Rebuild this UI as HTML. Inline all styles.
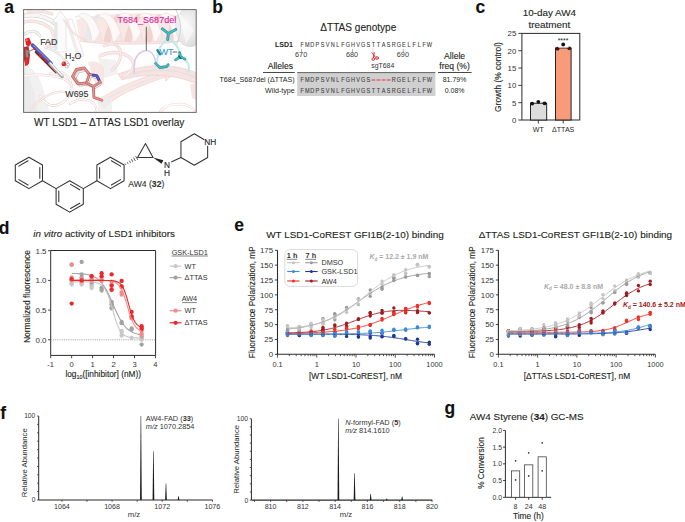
<!DOCTYPE html>
<html><head><meta charset="utf-8"><style>
html,body{margin:0;padding:0;background:#fff;}
svg{display:block;font-family:"Liberation Sans", sans-serif;}
text{stroke-width:0.12px;}
</style></head><body>
<svg width="685" height="522" viewBox="0 0 685 522">
<rect width="685" height="522" fill="#fff"/>
<text x="4.30" y="13.00" font-size="17.5" fill="#111" stroke="#111" font-weight="bold" >a</text>
<text x="212.30" y="13.00" font-size="17.5" fill="#111" stroke="#111" font-weight="bold" >b</text>
<text x="475.60" y="13.20" font-size="17.5" fill="#111" stroke="#111" font-weight="bold" >c</text>
<text x="-1.20" y="234.40" font-size="17.5" fill="#111" stroke="#111" font-weight="bold" >d</text>
<text x="234.20" y="231.40" font-size="17.5" fill="#111" stroke="#111" font-weight="bold" >e</text>
<text x="0.30" y="418.60" font-size="17.5" fill="#111" stroke="#111" font-weight="bold" >f</text>
<text x="444.60" y="414.40" font-size="17.5" fill="#111" stroke="#111" font-weight="bold" >g</text>
<defs><clipPath id="clipA"><rect x="23.5" y="9.6" width="172.6" height="102.8"/></clipPath><radialGradient id="gHel" cx="0.35" cy="0.45" r="0.75"><stop offset="0" stop-color="#fafafa"/><stop offset="0.6" stop-color="#e4e4e4"/><stop offset="1" stop-color="#cfcfcf"/></radialGradient><linearGradient id="gStr" x1="0" y1="0" x2="1" y2="0"><stop offset="0" stop-color="#e2e2e2"/><stop offset="0.5" stop-color="#f7f7f7"/><stop offset="1" stop-color="#e6e6e6"/></linearGradient><linearGradient id="gPk" x1="0" y1="0" x2="0" y2="1"><stop offset="0" stop-color="#f7e4e2"/><stop offset="0.5" stop-color="#f1d3cf"/><stop offset="1" stop-color="#f6e1de"/></linearGradient></defs>
<g clip-path="url(#clipA)">
<rect x="23.5" y="9.6" width="172.6" height="102.8" fill="#fff"/>
<path d="M23,62 C30,66 36,72 40,80 C44,90 46,100 50,113 L23,113 Z" fill="#f1f1f1"/>
<path d="M23,70 C28,74 32,82 34,92 C35,100 36,106 38,113 L23,113Z" fill="#e8e8e8" opacity="0.6"/>
<path d="M24,16 C34,14 46,16 56,24 C62,30 60,40 52,46" fill="none" stroke="#d6d6d6" stroke-width="4.5" stroke-linecap="round" stroke-linejoin="round" opacity="1.0"/>
<path d="M24,16 C34,14 46,16 56,24 C62,30 60,40 52,46" fill="none" stroke="#f6f6f6" stroke-width="3.2" stroke-linecap="round" stroke-linejoin="round" opacity="1.0"/>
<path d="M24,22 C32,20 42,22 50,28 C56,34 54,42 46,48" fill="none" stroke="#efd5d2" stroke-width="3.2" stroke-linecap="round" stroke-linejoin="round" opacity="1.0"/>
<path d="M24,22 C32,20 42,22 50,28 C56,34 54,42 46,48" fill="none" stroke="#f9ebe9" stroke-width="1.9000000000000001" stroke-linecap="round" stroke-linejoin="round" opacity="1.0"/>
<path d="M25,34 C30,30 36,30 40,36" fill="none" stroke="#d6d6d6" stroke-width="3.0" stroke-linecap="round" stroke-linejoin="round" opacity="1.0"/>
<path d="M25,34 C30,30 36,30 40,36" fill="none" stroke="#f6f6f6" stroke-width="1.7" stroke-linecap="round" stroke-linejoin="round" opacity="1.0"/>
<path d="M28,12 C36,10 44,11 52,14" fill="none" stroke="#efd5d2" stroke-width="3.0" stroke-linecap="round" stroke-linejoin="round" opacity="1.0"/>
<path d="M28,12 C36,10 44,11 52,14" fill="none" stroke="#f9ebe9" stroke-width="1.7" stroke-linecap="round" stroke-linejoin="round" opacity="1.0"/>
<path d="M54.5,52 L54.8,22 L52.5,22 L60.5,11 L68.5,22 L66,22 L66.2,52 Z" fill="#fbfbfb" stroke="#d9d9d9" stroke-width="0.6"/>
<path d="M54.6,50 L54.8,22 L57.5,22 L57.6,50 Z" fill="#e6e6e6"/>
<path d="M66,20 L72,19 L84,56 L78,58 Z" fill="#fcfcfc" stroke="#ecd2cf" stroke-width="0.6"/>
<path d="M66,20 L68.5,20 L80.5,57 L78,58 Z" fill="#ededed"/>
<path d="M76,20 C90,13 150,12 178,15 L178,42 C150,45 100,45 80,41 Z" fill="#f8e8e6"/>
<path d="M83.0,42 C85.0,30 90.0,19 97.0,14 L103.0,14.5 C96.0,20 92.0,31 90.0,42.5 Z" fill="#e9e9e9"/>
<path d="M75.0,17.5 C83.0,14 90.0,24 92.0,41.5 L102.0,41.5 C99.0,25 92.0,13 82.0,13 Z" fill="#fdf9f8" stroke="#d6d6d6" stroke-width="0.5"/>
<path d="M94.0,41.5 L102.0,41.5 C101.5,37 101.0,35 100.0,32 C98.0,35 96.0,38 94.0,41.5 Z" fill="#ecdede" opacity="0.7"/>
<path d="M103.5,42 C105.5,30 110.5,19 117.5,14 L123.5,14.5 C116.5,20 112.5,31 110.5,42.5 Z" fill="#f1d3cf"/>
<path d="M95.5,17.5 C103.5,14 110.5,24 112.5,41.5 L122.5,41.5 C119.5,25 112.5,13 102.5,13 Z" fill="#fdf9f8" stroke="#e9cdca" stroke-width="0.5"/>
<path d="M114.5,41.5 L122.5,41.5 C122.0,37 121.5,35 120.5,32 C118.5,35 116.5,38 114.5,41.5 Z" fill="#ecdede" opacity="0.7"/>
<path d="M124.0,42 C126.0,30 131.0,19 138.0,14 L144.0,14.5 C137.0,20 133.0,31 131.0,42.5 Z" fill="#f1d3cf"/>
<path d="M116.0,17.5 C124.0,14 131.0,24 133.0,41.5 L143.0,41.5 C140.0,25 133.0,13 123.0,13 Z" fill="#fdf9f8" stroke="#e9cdca" stroke-width="0.5"/>
<path d="M135.0,41.5 L143.0,41.5 C142.5,37 142.0,35 141.0,32 C139.0,35 137.0,38 135.0,41.5 Z" fill="#ecdede" opacity="0.7"/>
<path d="M144.5,42 C146.5,30 151.5,19 158.5,14 L164.5,14.5 C157.5,20 153.5,31 151.5,42.5 Z" fill="#f1d3cf"/>
<path d="M136.5,17.5 C144.5,14 151.5,24 153.5,41.5 L163.5,41.5 C160.5,25 153.5,13 143.5,13 Z" fill="#fdf9f8" stroke="#e9cdca" stroke-width="0.5"/>
<path d="M155.5,41.5 L163.5,41.5 C163.0,37 162.5,35 161.5,32 C159.5,35 157.5,38 155.5,41.5 Z" fill="#ecdede" opacity="0.7"/>
<path d="M165.0,42 C167.0,30 172.0,19 179.0,14 L185.0,14.5 C178.0,20 174.0,31 172.0,42.5 Z" fill="#f1d3cf"/>
<path d="M157.0,17.5 C165.0,14 172.0,24 174.0,41.5 L184.0,41.5 C181.0,25 174.0,13 164.0,13 Z" fill="#fdf9f8" stroke="#e9cdca" stroke-width="0.5"/>
<path d="M176.0,41.5 L184.0,41.5 C183.5,37 183.0,35 182.0,32 C180.0,35 178.0,38 176.0,41.5 Z" fill="#ecdede" opacity="0.7"/>
<path d="M80,41 C100,45 150,45 178,42" fill="none" stroke="#ecd0cc" stroke-width="0.7"/>
<ellipse cx="190" cy="27" rx="15" ry="20" fill="url(#gHel)"/>
<path d="M176,10 C182,22 182,34 176,46" fill="none" stroke="#d2d2d2" stroke-width="1"/>
<path d="M178,12 L194,30 L186,44" fill="#fbfbfb" opacity="0.6"/>
<path d="M98,100 C108,94 120,86 140,79 C150,75 158,73 164,71 L163,66 L174,72 L166,81 L165,77 C156,80 146,84 134,89 C120,95 110,102 104,108 Z" fill="#f8e7e5" stroke="#ecccc8" stroke-width="0.6"/>
<path d="M118,74 C135,68 150,64 168,66 C180,67 190,70 197,73 L197,84 C188,80 178,77 166,76 C150,74 134,76 122,80 Z" fill="#f7e4e2" stroke="#ebc9c5" stroke-width="0.6"/>
<path d="M122,77 C138,71 156,69 172,71 C182,72 190,75 197,78" fill="none" stroke="#e2e2e2" stroke-width="1.4"/>
<path d="M104,100 C118,92 134,84 160,76" fill="none" stroke="#e6e6e6" stroke-width="1.3"/>
<path d="M98,58 L116,60 L118,74 L104,78 Z" fill="#ededed" opacity="0.8"/>
<path d="M98,96 L112,98 L112,112 L98,112 Z" fill="#ededed" opacity="0.7"/>
<path d="M100,56 C112,50 126,52 132,60 C136,66 132,72 124,76" fill="none" stroke="#efd5d2" stroke-width="3.4" stroke-linecap="round" stroke-linejoin="round" opacity="1.0"/>
<path d="M100,56 C112,50 126,52 132,60 C136,66 132,72 124,76" fill="none" stroke="#f9ebe9" stroke-width="2.0999999999999996" stroke-linecap="round" stroke-linejoin="round" opacity="1.0"/>
<path d="M104,46 C110,42 118,44 120,50 C122,58 118,66 112,70" fill="none" stroke="#efd5d2" stroke-width="3.0" stroke-linecap="round" stroke-linejoin="round" opacity="1.0"/>
<path d="M104,46 C110,42 118,44 120,50 C122,58 118,66 112,70" fill="none" stroke="#f9ebe9" stroke-width="1.7" stroke-linecap="round" stroke-linejoin="round" opacity="1.0"/>
<path d="M88,62 C94,60 100,62 104,68 L104,84 L96,86 Z" fill="#f5e0dd" opacity="0.8"/>
<path d="M160,112 C164,106 172,104 180,104 C188,104 192,108 196,112" fill="none" stroke="#efd5d2" stroke-width="2.6" stroke-linecap="round" stroke-linejoin="round" opacity="1.0"/>
<path d="M160,112 C164,106 172,104 180,104 C188,104 192,108 196,112" fill="none" stroke="#fff" stroke-width="1.3" stroke-linecap="round" stroke-linejoin="round" opacity="1.0"/>
<path d="M190,84 L197,84 L197,100 L192,98 Z" fill="#f4dedb" opacity="0.8"/>
<path d="M50,74 C58,70 66,72 70,80 C74,90 68,100 60,104 C52,108 44,104 40,96" fill="none" stroke="#efd5d2" stroke-width="2.6" stroke-linecap="round" stroke-linejoin="round" opacity="1.0"/>
<path d="M50,74 C58,70 66,72 70,80 C74,90 68,100 60,104 C52,108 44,104 40,96" fill="none" stroke="#fff" stroke-width="1.3" stroke-linecap="round" stroke-linejoin="round" opacity="1.0"/>
<path d="M30,110 C40,98 54,90 66,92" fill="none" stroke="#efd5d2" stroke-width="2.2" stroke-linecap="round" stroke-linejoin="round" opacity="1.0"/>
<path d="M30,110 C40,98 54,90 66,92" fill="none" stroke="#fff" stroke-width="0.9000000000000001" stroke-linecap="round" stroke-linejoin="round" opacity="1.0"/>
<path d="M70,104 C78,98 88,98 94,104 C98,108 96,112 94,114" fill="none" stroke="#efd5d2" stroke-width="2.4" stroke-linecap="round" stroke-linejoin="round" opacity="1.0"/>
<path d="M70,104 C78,98 88,98 94,104 C98,108 96,112 94,114" fill="none" stroke="#fff" stroke-width="1.0999999999999999" stroke-linecap="round" stroke-linejoin="round" opacity="1.0"/>
<path d="M48,48 C58,52 64,58 66,64" fill="none" stroke="#d6d6d6" stroke-width="2.4" stroke-linecap="round" stroke-linejoin="round" opacity="1.0"/>
<path d="M48,48 C58,52 64,58 66,64" fill="none" stroke="#f6f6f6" stroke-width="1.0999999999999999" stroke-linecap="round" stroke-linejoin="round" opacity="1.0"/>
<path d="M64,20 C70,30 74,36 86,40" fill="none" stroke="#efd5d2" stroke-width="2.0" stroke-linecap="round" stroke-linejoin="round" opacity="0.7"/>
<path d="M64,20 C70,30 74,36 86,40" fill="none" stroke="#f9ebe9" stroke-width="0.7" stroke-linecap="round" stroke-linejoin="round" opacity="0.7"/>
<path d="M23.5,76 C34,74.5 48,74 60,77.5 C66,79.5 70,82 72,86" fill="none" stroke="#efd5d2" stroke-width="2.6" stroke-linecap="round" stroke-linejoin="round" opacity="1.0"/>
<path d="M23.5,76 C34,74.5 48,74 60,77.5 C66,79.5 70,82 72,86" fill="none" stroke="#fff" stroke-width="1.3" stroke-linecap="round" stroke-linejoin="round" opacity="1.0"/>
<path d="M146.3,50.5 C141,51 136.5,55 135,60 C134,64 133.8,68 134.2,73" fill="none" stroke="#dcc6e6" stroke-width="1.5" stroke-linecap="round"/>
<path d="M146.3,50.5 C150,50.5 153.5,54 155,59 C155.5,61 155.6,62.5 155.6,63.4" fill="none" stroke="#dcc6e6" stroke-width="1.5" stroke-linecap="round"/>
<path d="M168,39.5 C164,42 160.5,45 159,50 C158,54 157.5,58 157,62" fill="none" stroke="#c4e9ea" stroke-width="2.0" stroke-linecap="round"/>
<path d="M169,39.5 C174,41.5 178,46 179.5,53" fill="none" stroke="#c4e9ea" stroke-width="2.0" stroke-linecap="round"/>
<path d="M184.5,59 C188,62 190,66 188.5,72" fill="none" stroke="#c4e9ea" stroke-width="2.0" stroke-linecap="round"/>
<path d="M162.4,28.8 L168.4,33.5 L175.8,29.5 M168.4,33.5 L167.7,39.5" fill="none" stroke="#23939a" stroke-width="2.8" stroke-linecap="round" stroke-linejoin="round"/>
<path d="M162.4,28.8 L168.4,33.5 L175.8,29.5 M168.4,33.5 L167.7,39.5" fill="none" stroke="#46bfc5" stroke-width="1.4999999999999998" stroke-linecap="round" stroke-linejoin="round"/>
<path d="M157.4,50.2 L160.0,54.2" fill="none" stroke="#1d8890" stroke-width="2.4" stroke-linecap="round" stroke-linejoin="round"/>
<path d="M155.6,63.4 L159.8,67.6 L166.6,66.6 L168.2,64.6" fill="none" stroke="#23939a" stroke-width="2.7" stroke-linecap="round" stroke-linejoin="round"/>
<path d="M155.6,63.4 L159.8,67.6 L166.6,66.6 L168.2,64.6" fill="none" stroke="#46bfc5" stroke-width="1.4000000000000001" stroke-linecap="round" stroke-linejoin="round"/>
<path d="M175.6,59.8 L180.5,56.6 L185.0,59.2 M180.5,56.6 L179.6,52.6" fill="none" stroke="#23939a" stroke-width="2.7" stroke-linecap="round" stroke-linejoin="round"/>
<path d="M175.6,59.8 L180.5,56.6 L185.0,59.2 M180.5,56.6 L179.6,52.6" fill="none" stroke="#46bfc5" stroke-width="1.4000000000000001" stroke-linecap="round" stroke-linejoin="round"/>
<path d="M178.6,56.0 L181.0,58.6" fill="none" stroke="#0f5f66" stroke-width="1.4" stroke-linecap="round" stroke-linejoin="round"/>
<path d="M25,39 L29,37.5 L31.5,43 L29,46.5 L26,45 Z" fill="#e02424"/>
<circle cx="26.8" cy="40.2" r="0.9" fill="#ff8a8a"/>
<path d="M24,47 L28.5,46 L30,55 L29,63.5 L25.5,65.5 L23.5,58 Z" fill="#b83030"/>
<path d="M25.5,49.5 L28.5,50.5 L28.2,58 L25.8,57 Z" fill="#8c8c8c"/>
<path d="M24.5,59 L28.5,59.5 L28.2,65 L25,66 Z" fill="#e42a2a"/>
<path d="M36,52 L56,72" fill="none" stroke="#7a2626" stroke-width="2.6" stroke-linecap="round" stroke-linejoin="round"/>
<path d="M32.5,45.2 L51,63.6" fill="none" stroke="#4a55b6" stroke-width="3.8" stroke-linecap="round" stroke-linejoin="round"/>
<path d="M33.5,45.5 L49,61" fill="none" stroke="#7d88dd" stroke-width="1.1" stroke-linecap="round" stroke-linejoin="round"/>
<path d="M50,63.5 L62.2,76.6" fill="none" stroke="#a9a9a9" stroke-width="3.4" stroke-linecap="round" stroke-linejoin="round"/>
<path d="M50.6,63.4 L62,75.6" fill="none" stroke="#f6f6f6" stroke-width="1.5" stroke-linecap="round" stroke-linejoin="round"/>
<circle cx="40.4" cy="55.9" r="1.6" fill="#d82a2a"/>
<circle cx="45.1" cy="60.1" r="1.5" fill="#c82828"/>
<circle cx="34.4" cy="48.8" r="1.3" fill="#d82a2a"/>
<path d="M27.5,52 L33,49.5" fill="none" stroke="#8a8a8a" stroke-width="1.3" stroke-linecap="round" stroke-linejoin="round"/>
<circle cx="66.6" cy="62.4" r="1.5" fill="#fff" stroke="#9a9a9a" stroke-width="0.6"/>
<circle cx="66.8" cy="66.6" r="1.6" fill="#fff" stroke="#9a9a9a" stroke-width="0.6"/>
<circle cx="68.2" cy="64.6" r="1.4" fill="#fff" stroke="#9a9a9a" stroke-width="0.6"/>
<circle cx="63.8" cy="63.9" r="2.3" fill="#e02828"/>
<circle cx="63.0" cy="63.1" r="0.8" fill="#ff9a9a"/>
<path d="M75.0,78.0 L78.6,71.8 L86.0,70.4 L90.6,76.4 L87.8,84.2 L80.0,85.2 Z M90.6,76.4 L97.6,77.8 L101.0,84.0 L94.6,87.8 L87.8,84.2" fill="none" stroke="#b5b5b5" stroke-width="2.6" stroke-linecap="round" stroke-linejoin="round"/>
<path d="M75.0,78.0 L78.6,71.8 L86.0,70.4 L90.6,76.4 L87.8,84.2 L80.0,85.2 Z M90.6,76.4 L97.6,77.8 L101.0,84.0 L94.6,87.8 L87.8,84.2" fill="none" stroke="#f2f2f2" stroke-width="1.3" stroke-linecap="round" stroke-linejoin="round"/>
<path d="M72.5,76.4 L76.4,69.5 L84.4,68.0 L89.4,74.4 L86.4,82.9 L77.9,83.9 Z" fill="none" stroke="#c0605e" stroke-width="2.8" stroke-linecap="round" stroke-linejoin="round"/>
<path d="M72.5,76.4 L76.4,69.5 L84.4,68.0 L89.4,74.4 L86.4,82.9 L77.9,83.9 Z" fill="none" stroke="#e39390" stroke-width="1.4999999999999998" stroke-linecap="round" stroke-linejoin="round"/>
<path d="M89.4,74.4 L96.9,75.9 L100.3,82.4 L93.4,86.4 L86.4,82.9 M93.4,86.4 L93.9,97.4 L101.8,100.3" fill="none" stroke="#c0605e" stroke-width="2.8" stroke-linecap="round" stroke-linejoin="round"/>
<path d="M89.4,74.4 L96.9,75.9 L100.3,82.4 L93.4,86.4 L86.4,82.9 M93.4,86.4 L93.9,97.4 L101.8,100.3" fill="none" stroke="#e39390" stroke-width="1.4999999999999998" stroke-linecap="round" stroke-linejoin="round"/>
<path d="M93.2,75.2 L96.9,75.9 L98.7,79.4" fill="none" stroke="#2f3fae" stroke-width="2.8" stroke-linecap="round" stroke-linejoin="round"/>
<path d="M93.2,75.2 L96.9,75.9 L98.7,79.4" fill="none" stroke="#5566d0" stroke-width="1.4999999999999998" stroke-linecap="round" stroke-linejoin="round"/>
</g>
<rect x="23.6" y="9.6" width="172.6" height="102.8" fill="none" stroke="#6b6b6b" stroke-width="1"/>
<text x="40.20" y="44.80" font-size="8.9" fill="#333" stroke="#333" >FAD</text>
<text x="65.0" y="59.3" font-size="8.9" fill="#333" stroke="#333">H<tspan font-size="5.5" dy="2">2</tspan><tspan dy="-2">O</tspan></text>
<text x="65.30" y="96.60" font-size="8.9" fill="#333" stroke="#333" >W695</text>
<text x="117.60" y="23.00" font-size="9.0" fill="#e3179a" stroke="#e3179a" >T684_S687del</text>
<text x="159.40" y="54.50" font-size="9.2" fill="#3a9ad8" stroke="#3a9ad8" >WT</text>
<line x1="172.60" y1="52.00" x2="177.20" y2="52.00" stroke="#222" stroke-width="0.7" />
<line x1="146.30" y1="26.80" x2="146.30" y2="50.30" stroke="#222" stroke-width="0.7" />
<text x="34.00" y="125.70" font-size="10.15" fill="#231f20" stroke="#231f20" >WT LSD1 – ΔTTAS LSD1 overlay</text>
<text x="358.30" y="30.60" font-size="10.1" fill="#231f20" stroke="#231f20" text-anchor="middle" >ΔTTAS genotype</text>
<text x="275.00" y="46.60" font-size="7" fill="#231f20" font-weight="bold" >LSD1</text>
<g font-size="7.5" fill="#404040" stroke="#404040" stroke-width="0.38"><text transform="translate(302.14,46.6) scale(0.74,1)" text-anchor="middle">F</text><text transform="translate(307.23,46.6) scale(0.74,1)" text-anchor="middle">M</text><text transform="translate(312.32,46.6) scale(0.74,1)" text-anchor="middle">D</text><text transform="translate(317.41,46.6) scale(0.74,1)" text-anchor="middle">P</text><text transform="translate(322.50,46.6) scale(0.74,1)" text-anchor="middle">S</text><text transform="translate(327.59,46.6) scale(0.74,1)" text-anchor="middle">V</text><text transform="translate(332.68,46.6) scale(0.74,1)" text-anchor="middle">N</text><text transform="translate(337.76,46.6) scale(0.74,1)" text-anchor="middle">L</text><text transform="translate(342.85,46.6) scale(0.74,1)" text-anchor="middle">F</text><text transform="translate(347.94,46.6) scale(0.74,1)" text-anchor="middle">G</text><text transform="translate(353.03,46.6) scale(0.74,1)" text-anchor="middle">H</text><text transform="translate(358.12,46.6) scale(0.74,1)" text-anchor="middle">V</text><text transform="translate(363.21,46.6) scale(0.74,1)" text-anchor="middle">G</text><text transform="translate(368.29,46.6) scale(0.74,1)" text-anchor="middle">S</text><text transform="translate(373.38,46.6) scale(0.74,1)" text-anchor="middle">T</text><text transform="translate(378.47,46.6) scale(0.74,1)" text-anchor="middle">T</text><text transform="translate(383.56,46.6) scale(0.74,1)" text-anchor="middle">A</text><text transform="translate(388.65,46.6) scale(0.74,1)" text-anchor="middle">S</text><text transform="translate(393.74,46.6) scale(0.74,1)" text-anchor="middle">R</text><text transform="translate(398.82,46.6) scale(0.74,1)" text-anchor="middle">G</text><text transform="translate(403.91,46.6) scale(0.74,1)" text-anchor="middle">E</text><text transform="translate(409.00,46.6) scale(0.74,1)" text-anchor="middle">L</text><text transform="translate(414.09,46.6) scale(0.74,1)" text-anchor="middle">F</text><text transform="translate(419.18,46.6) scale(0.74,1)" text-anchor="middle">L</text><text transform="translate(424.27,46.6) scale(0.74,1)" text-anchor="middle">F</text><text transform="translate(429.36,46.6) scale(0.74,1)" text-anchor="middle">W</text></g>
<line x1="301.54" y1="49.00" x2="301.54" y2="52.40" stroke="#666" stroke-width="0.55" />
<text x="301.14" y="57.40" font-size="7.3" fill="#3a3a3a" text-anchor="middle" >670</text>
<line x1="352.43" y1="49.00" x2="352.43" y2="52.40" stroke="#666" stroke-width="0.55" />
<text x="352.03" y="57.40" font-size="7.3" fill="#3a3a3a" text-anchor="middle" >680</text>
<line x1="403.31" y1="49.00" x2="403.31" y2="52.40" stroke="#666" stroke-width="0.55" />
<text x="402.91" y="57.40" font-size="7.3" fill="#3a3a3a" text-anchor="middle" >690</text>
<line x1="372.98" y1="48.30" x2="372.98" y2="51.80" stroke="#f08a90" stroke-width="0.5" stroke-dasharray="0.8,0.5"/>
<g stroke="#e3262d" fill="none" stroke-width="1.0" stroke-linecap="round"><path d="M371.98,52.6L375.28,57.0"/><path d="M374.18,52.6L373.58,57.4"/><circle cx="373.28" cy="59.1" r="1.35"/><circle cx="377.08" cy="58.0" r="1.35"/></g>
<text x="382.80" y="68.00" font-size="6.9" fill="#333" text-anchor="middle" >sgT684</text>
<text x="267.70" y="68.80" font-size="8.6" fill="#231f20" stroke="#231f20" >Alleles</text>
<line x1="263.00" y1="72.50" x2="294.80" y2="72.50" stroke="#333" stroke-width="0.9" />
<text x="454.60" y="59.40" font-size="8.6" fill="#231f20" stroke="#231f20" text-anchor="middle" >Allele</text>
<text x="454.60" y="69.40" font-size="8.6" fill="#231f20" stroke="#231f20" text-anchor="middle" >freq (%)</text>
<line x1="438.00" y1="72.50" x2="471.60" y2="72.50" stroke="#333" stroke-width="0.9" />
<rect x="297.2" y="72.4" width="138.2" height="23.6" fill="#d0d0d0"/>
<line x1="297.20" y1="72.60" x2="435.40" y2="72.60" stroke="#555" stroke-width="0.9" />
<text x="294.70" y="82.00" font-size="7.1" fill="#231f20" text-anchor="end" >T684_S687del (ΔTTAS)</text>
<text x="294.70" y="93.10" font-size="7.1" fill="#231f20" text-anchor="end" >Wild-type</text>
<g font-size="7.5" fill="#404040" stroke="#404040" stroke-width="0.38"><text transform="translate(302.14,82.3) scale(0.74,1)" text-anchor="middle">F</text><text transform="translate(307.23,82.3) scale(0.74,1)" text-anchor="middle">M</text><text transform="translate(312.32,82.3) scale(0.74,1)" text-anchor="middle">D</text><text transform="translate(317.41,82.3) scale(0.74,1)" text-anchor="middle">P</text><text transform="translate(322.50,82.3) scale(0.74,1)" text-anchor="middle">S</text><text transform="translate(327.59,82.3) scale(0.74,1)" text-anchor="middle">V</text><text transform="translate(332.68,82.3) scale(0.74,1)" text-anchor="middle">N</text><text transform="translate(337.76,82.3) scale(0.74,1)" text-anchor="middle">L</text><text transform="translate(342.85,82.3) scale(0.74,1)" text-anchor="middle">F</text><text transform="translate(347.94,82.3) scale(0.74,1)" text-anchor="middle">G</text><text transform="translate(353.03,82.3) scale(0.74,1)" text-anchor="middle">H</text><text transform="translate(358.12,82.3) scale(0.74,1)" text-anchor="middle">V</text><text transform="translate(363.21,82.3) scale(0.74,1)" text-anchor="middle">G</text><text transform="translate(368.29,82.3) scale(0.74,1)" text-anchor="middle">S</text><text transform="translate(393.74,82.3) scale(0.74,1)" text-anchor="middle">R</text><text transform="translate(398.82,82.3) scale(0.74,1)" text-anchor="middle">G</text><text transform="translate(403.91,82.3) scale(0.74,1)" text-anchor="middle">E</text><text transform="translate(409.00,82.3) scale(0.74,1)" text-anchor="middle">L</text><text transform="translate(414.09,82.3) scale(0.74,1)" text-anchor="middle">F</text><text transform="translate(419.18,82.3) scale(0.74,1)" text-anchor="middle">L</text><text transform="translate(424.27,82.3) scale(0.74,1)" text-anchor="middle">F</text><text transform="translate(429.36,82.3) scale(0.74,1)" text-anchor="middle">W</text></g>
<line x1="371.48" y1="80.00" x2="375.28" y2="80.00" stroke="#ec3b44" stroke-width="1.1" />
<line x1="376.57" y1="80.00" x2="380.37" y2="80.00" stroke="#ec3b44" stroke-width="1.1" />
<line x1="381.66" y1="80.00" x2="385.46" y2="80.00" stroke="#ec3b44" stroke-width="1.1" />
<line x1="386.75" y1="80.00" x2="390.55" y2="80.00" stroke="#ec3b44" stroke-width="1.1" />
<g font-size="7.5" fill="#404040" stroke="#404040" stroke-width="0.38"><text transform="translate(302.14,93.3) scale(0.74,1)" text-anchor="middle">F</text><text transform="translate(307.23,93.3) scale(0.74,1)" text-anchor="middle">M</text><text transform="translate(312.32,93.3) scale(0.74,1)" text-anchor="middle">D</text><text transform="translate(317.41,93.3) scale(0.74,1)" text-anchor="middle">P</text><text transform="translate(322.50,93.3) scale(0.74,1)" text-anchor="middle">S</text><text transform="translate(327.59,93.3) scale(0.74,1)" text-anchor="middle">V</text><text transform="translate(332.68,93.3) scale(0.74,1)" text-anchor="middle">N</text><text transform="translate(337.76,93.3) scale(0.74,1)" text-anchor="middle">L</text><text transform="translate(342.85,93.3) scale(0.74,1)" text-anchor="middle">F</text><text transform="translate(347.94,93.3) scale(0.74,1)" text-anchor="middle">G</text><text transform="translate(353.03,93.3) scale(0.74,1)" text-anchor="middle">H</text><text transform="translate(358.12,93.3) scale(0.74,1)" text-anchor="middle">V</text><text transform="translate(363.21,93.3) scale(0.74,1)" text-anchor="middle">G</text><text transform="translate(368.29,93.3) scale(0.74,1)" text-anchor="middle">S</text><text transform="translate(373.38,93.3) scale(0.74,1)" text-anchor="middle">T</text><text transform="translate(378.47,93.3) scale(0.74,1)" text-anchor="middle">T</text><text transform="translate(383.56,93.3) scale(0.74,1)" text-anchor="middle">A</text><text transform="translate(388.65,93.3) scale(0.74,1)" text-anchor="middle">S</text><text transform="translate(393.74,93.3) scale(0.74,1)" text-anchor="middle">R</text><text transform="translate(398.82,93.3) scale(0.74,1)" text-anchor="middle">G</text><text transform="translate(403.91,93.3) scale(0.74,1)" text-anchor="middle">E</text><text transform="translate(409.00,93.3) scale(0.74,1)" text-anchor="middle">L</text><text transform="translate(414.09,93.3) scale(0.74,1)" text-anchor="middle">F</text><text transform="translate(419.18,93.3) scale(0.74,1)" text-anchor="middle">L</text><text transform="translate(424.27,93.3) scale(0.74,1)" text-anchor="middle">F</text><text transform="translate(429.36,93.3) scale(0.74,1)" text-anchor="middle">W</text></g>
<text x="454.60" y="82.20" font-size="7" fill="#231f20" text-anchor="middle" >81.79%</text>
<text x="454.60" y="93.20" font-size="7" fill="#231f20" text-anchor="middle" >0.08%</text>
<text x="549.40" y="16.10" font-size="9.9" fill="#231f20" stroke="#231f20" text-anchor="middle" >10-day AW4</text>
<text x="549.40" y="27.90" font-size="9.9" fill="#231f20" stroke="#231f20" text-anchor="middle" >treatment</text>
<rect x="521.9" y="33.4" width="57.9" height="86.6" fill="none" stroke="#2b2b2b" stroke-width="1"/>
<line x1="518.30" y1="120.00" x2="521.90" y2="120.00" stroke="#2b2b2b" stroke-width="0.9" />
<text x="516.30" y="122.90" font-size="7.8" fill="#333" text-anchor="end" >0</text>
<line x1="518.30" y1="102.68" x2="521.90" y2="102.68" stroke="#2b2b2b" stroke-width="0.9" />
<text x="516.30" y="105.58" font-size="7.8" fill="#333" text-anchor="end" >5</text>
<line x1="518.30" y1="85.36" x2="521.90" y2="85.36" stroke="#2b2b2b" stroke-width="0.9" />
<text x="516.30" y="88.26" font-size="7.8" fill="#333" text-anchor="end" >10</text>
<line x1="518.30" y1="68.04" x2="521.90" y2="68.04" stroke="#2b2b2b" stroke-width="0.9" />
<text x="516.30" y="70.94" font-size="7.8" fill="#333" text-anchor="end" >15</text>
<line x1="518.30" y1="50.72" x2="521.90" y2="50.72" stroke="#2b2b2b" stroke-width="0.9" />
<text x="516.30" y="53.62" font-size="7.8" fill="#333" text-anchor="end" >20</text>
<line x1="518.30" y1="33.40" x2="521.90" y2="33.40" stroke="#2b2b2b" stroke-width="0.9" />
<text x="516.30" y="36.30" font-size="7.8" fill="#333" text-anchor="end" >25</text>
<text transform="translate(501.20,77.00) rotate(-90)" font-size="8.4" fill="#231f20" stroke="#231f20" text-anchor="middle">Growth (% control)</text>
<rect x="530.5" y="103.20" width="16.2" height="16.80" fill="#dcdcdc" stroke="#111" stroke-width="0.9"/>
<rect x="555.5" y="47.95" width="15.6" height="72.05" fill="#f79b7b" stroke="#111" stroke-width="0.9"/>
<circle cx="532.20" cy="103.55" r="1.9" fill="#111" />
<circle cx="538.30" cy="101.81" r="1.9" fill="#111" />
<circle cx="544.50" cy="103.37" r="1.9" fill="#111" />
<circle cx="557.60" cy="48.64" r="1.9" fill="#4a1010" />
<circle cx="563.20" cy="44.48" r="1.9" fill="#111" />
<circle cx="569.30" cy="48.30" r="1.9" fill="#4a1010" />
<line x1="558.00" y1="47.26" x2="568.80" y2="47.26" stroke="#fff" stroke-width="0.6" />
<line x1="538.30" y1="120.00" x2="538.30" y2="123.50" stroke="#2b2b2b" stroke-width="0.9" />
<line x1="563.20" y1="120.00" x2="563.20" y2="123.50" stroke="#2b2b2b" stroke-width="0.9" />
<text x="538.30" y="131.70" font-size="7.1" fill="#231f20" text-anchor="middle" >WT</text>
<text x="563.20" y="131.70" font-size="7.1" fill="#231f20" text-anchor="middle" >ΔTTAS</text>
<text x="563.00" y="42.60" font-size="6.8" fill="#222" text-anchor="middle" >****</text>
<path d="M28.90,157.20L42.50,165.05M42.50,165.05L42.50,180.75M42.50,180.75L28.90,188.60M28.90,188.60L15.30,180.75M15.30,180.75L15.30,165.05M15.30,165.05L28.90,157.20M18.83,166.13L28.07,160.79M39.80,167.56L39.80,178.24M28.07,185.01L18.83,179.67" stroke="#333" stroke-width="1.05" fill="none" stroke-linecap="round" stroke-linejoin="round"/>
<path d="M69.70,180.75L83.30,188.60M83.30,188.60L83.30,204.30M83.30,204.30L69.70,212.15M69.70,212.15L56.10,204.30M56.10,204.30L56.10,188.60M56.10,188.60L69.70,180.75M58.80,201.79L58.80,191.11M70.53,184.34L79.77,189.68M79.77,203.22L70.53,208.56" stroke="#333" stroke-width="1.05" fill="none" stroke-linecap="round" stroke-linejoin="round"/>
<path d="M110.50,157.20L124.10,165.05M124.10,165.05L124.10,180.75M124.10,180.75L110.50,188.60M110.50,188.60L96.90,180.75M96.90,180.75L96.90,165.05M96.90,165.05L110.50,157.20M99.60,178.24L99.60,167.56M111.33,160.79L120.57,166.13M120.57,179.67L111.33,185.01" stroke="#333" stroke-width="1.05" fill="none" stroke-linecap="round" stroke-linejoin="round"/>
<path d="M42.50,180.75L56.10,188.60M83.30,188.60L96.90,180.75" stroke="#333" stroke-width="1.05" fill="none" />
<line x1="125.15" y1="163.77" x2="125.74" y2="164.82" stroke="#333" stroke-width="0.8" />
<line x1="127.24" y1="162.22" x2="128.15" y2="163.85" stroke="#333" stroke-width="0.8" />
<line x1="129.33" y1="160.67" x2="130.57" y2="162.88" stroke="#333" stroke-width="0.8" />
<line x1="131.42" y1="159.12" x2="132.98" y2="161.92" stroke="#333" stroke-width="0.8" />
<line x1="133.51" y1="157.57" x2="135.39" y2="160.95" stroke="#333" stroke-width="0.8" />
<line x1="135.59" y1="156.02" x2="137.81" y2="159.98" stroke="#333" stroke-width="0.8" />
<path d="M137.6,157.5L145.5,143.6L153.0,157.5Z" stroke="#333" stroke-width="1.05" fill="none" stroke-linejoin="round"/>
<path d="M153.0,157.5L163.3,160.2L161.6,163.8Z" fill="#222"/>
<text x="167.00" y="168.40" font-size="8.3" fill="#222" stroke="#222" text-anchor="middle" >N</text>
<text x="167.00" y="176.00" font-size="8.3" fill="#222" stroke="#222" text-anchor="middle" >H</text>
<line x1="171.20" y1="161.90" x2="180.95" y2="157.43" stroke="#333" stroke-width="1.05" />
<path d="M207.65,146.28L207.65,157.43M207.65,157.43L194.30,165.30M194.30,165.30L180.95,157.43M180.95,157.43L180.95,141.68M180.95,141.68L194.30,133.80M194.30,133.80L203.91,139.47" stroke="#333" stroke-width="1.05" fill="none" stroke-linecap="round" stroke-linejoin="round"/>
<text x="204.30" y="144.80" font-size="8.3" fill="#222" stroke="#222" >NH</text>
<text x="128.3" y="186.8" font-size="8.6" fill="#333" stroke="#333">AW4 (<tspan font-weight="bold">32</tspan>)</text>
<text x="33.3" y="236.8" font-size="9.8" fill="#231f20" stroke="#231f20"><tspan font-style="italic">in vitro</tspan> activity of LSD1 inhibitors</text>
<path d="M50.7,250.5H155.6V355.4H50.7Z" fill="none" stroke="#2b2b2b" stroke-width="1"/>
<line x1="48.10" y1="250.70" x2="50.70" y2="250.70" stroke="#2b2b2b" stroke-width="0.9" />
<text x="46.50" y="253.50" font-size="7.9" fill="#333" text-anchor="end" >1.5</text>
<line x1="48.10" y1="280.40" x2="50.70" y2="280.40" stroke="#2b2b2b" stroke-width="0.9" />
<text x="46.50" y="283.20" font-size="7.9" fill="#333" text-anchor="end" >1.0</text>
<line x1="48.10" y1="310.10" x2="50.70" y2="310.10" stroke="#2b2b2b" stroke-width="0.9" />
<text x="46.50" y="312.90" font-size="7.9" fill="#333" text-anchor="end" >0.5</text>
<line x1="48.10" y1="339.80" x2="50.70" y2="339.80" stroke="#2b2b2b" stroke-width="0.9" />
<text x="46.50" y="342.60" font-size="7.9" fill="#333" text-anchor="end" >0.0</text>
<line x1="50.70" y1="355.40" x2="50.70" y2="358.20" stroke="#2b2b2b" stroke-width="0.9" />
<text x="50.70" y="366.50" font-size="7.6" fill="#333" text-anchor="middle" >-1</text>
<line x1="71.65" y1="355.40" x2="71.65" y2="358.20" stroke="#2b2b2b" stroke-width="0.9" />
<text x="71.65" y="366.50" font-size="7.6" fill="#333" text-anchor="middle" >0</text>
<line x1="92.60" y1="355.40" x2="92.60" y2="358.20" stroke="#2b2b2b" stroke-width="0.9" />
<text x="92.60" y="366.50" font-size="7.6" fill="#333" text-anchor="middle" >1</text>
<line x1="113.55" y1="355.40" x2="113.55" y2="358.20" stroke="#2b2b2b" stroke-width="0.9" />
<text x="113.55" y="366.50" font-size="7.6" fill="#333" text-anchor="middle" >2</text>
<line x1="134.50" y1="355.40" x2="134.50" y2="358.20" stroke="#2b2b2b" stroke-width="0.9" />
<text x="134.50" y="366.50" font-size="7.6" fill="#333" text-anchor="middle" >3</text>
<line x1="155.45" y1="355.40" x2="155.45" y2="358.20" stroke="#2b2b2b" stroke-width="0.9" />
<text x="155.45" y="366.50" font-size="7.6" fill="#333" text-anchor="middle" >4</text>
<line x1="50.70" y1="339.80" x2="155.60" y2="339.80" stroke="#9a9a9a" stroke-width="0.9" stroke-dasharray="1.1,1.1"/>
<text x="103.2" y="377.2" font-size="8.3" fill="#231f20" stroke="#231f20" text-anchor="middle">log<tspan font-size="5.4" dy="1.8">10</tspan><tspan dy="-1.8">([inhibitor] (nM))</tspan></text>
<text transform="translate(30.30,296.60) rotate(-90)" font-size="8.45" fill="#231f20" stroke="#231f20" text-anchor="middle">Normalized fluorescence</text>
<circle cx="71.65" cy="282.18" r="2.15" fill="#c9c9c9" />
<circle cx="71.65" cy="284.56" r="2.15" fill="#c9c9c9" />
<circle cx="71.65" cy="280.40" r="2.15" fill="#c9c9c9" />
<circle cx="71.65" cy="283.37" r="2.15" fill="#c9c9c9" />
<circle cx="81.64" cy="281.59" r="2.15" fill="#c9c9c9" />
<circle cx="81.64" cy="284.56" r="2.15" fill="#c9c9c9" />
<circle cx="81.64" cy="283.37" r="2.15" fill="#c9c9c9" />
<circle cx="81.64" cy="280.40" r="2.15" fill="#c9c9c9" />
<circle cx="91.64" cy="283.37" r="2.15" fill="#c9c9c9" />
<circle cx="91.64" cy="286.34" r="2.15" fill="#c9c9c9" />
<circle cx="91.64" cy="288.12" r="2.15" fill="#c9c9c9" />
<circle cx="91.64" cy="285.15" r="2.15" fill="#c9c9c9" />
<circle cx="101.63" cy="288.12" r="2.15" fill="#c9c9c9" />
<circle cx="101.63" cy="291.09" r="2.15" fill="#c9c9c9" />
<circle cx="101.63" cy="289.31" r="2.15" fill="#c9c9c9" />
<circle cx="111.62" cy="302.97" r="2.15" fill="#c9c9c9" />
<circle cx="111.62" cy="307.13" r="2.15" fill="#c9c9c9" />
<circle cx="111.62" cy="304.16" r="2.15" fill="#c9c9c9" />
<circle cx="121.64" cy="332.67" r="2.15" fill="#c9c9c9" />
<circle cx="121.64" cy="335.64" r="2.15" fill="#c9c9c9" />
<circle cx="121.64" cy="330.89" r="2.15" fill="#c9c9c9" />
<circle cx="131.63" cy="338.02" r="2.15" fill="#c9c9c9" />
<circle cx="141.62" cy="338.61" r="2.15" fill="#c9c9c9" />
<circle cx="141.62" cy="339.80" r="2.15" fill="#c9c9c9" />
<circle cx="71.65" cy="264.96" r="2.15" fill="#a3a3a3" />
<circle cx="81.64" cy="261.99" r="2.15" fill="#a3a3a3" />
<circle cx="81.64" cy="274.46" r="2.15" fill="#a3a3a3" />
<circle cx="81.64" cy="277.43" r="2.15" fill="#a3a3a3" />
<circle cx="91.64" cy="280.40" r="2.15" fill="#a3a3a3" />
<circle cx="91.64" cy="282.78" r="2.15" fill="#a3a3a3" />
<circle cx="101.63" cy="287.53" r="2.15" fill="#a3a3a3" />
<circle cx="101.63" cy="289.90" r="2.15" fill="#a3a3a3" />
<circle cx="111.62" cy="301.78" r="2.15" fill="#a3a3a3" />
<circle cx="111.62" cy="304.16" r="2.15" fill="#a3a3a3" />
<circle cx="111.62" cy="308.32" r="2.15" fill="#a3a3a3" />
<circle cx="121.64" cy="321.98" r="2.15" fill="#a3a3a3" />
<circle cx="121.64" cy="323.17" r="2.15" fill="#a3a3a3" />
<circle cx="131.63" cy="328.51" r="2.15" fill="#a3a3a3" />
<circle cx="131.63" cy="329.70" r="2.15" fill="#a3a3a3" />
<circle cx="141.62" cy="344.55" r="2.15" fill="#a3a3a3" />
<circle cx="141.62" cy="336.83" r="2.15" fill="#a3a3a3" />
<path d="M71.74,281.89L73.01,281.89L74.29,281.89L75.56,281.89L76.84,281.89L78.11,281.89L79.38,281.90L80.66,281.90L81.93,281.91L83.21,281.92L84.48,281.93L85.76,281.95L87.03,281.97L88.31,282.00L89.58,282.05L90.85,282.11L92.13,282.19L93.40,282.31L94.68,282.47L95.95,282.68L97.23,282.98L98.50,283.39L99.78,283.94L101.05,284.68L102.32,285.67L103.60,286.98L104.87,288.69L106.15,290.86L107.42,293.56L108.70,296.82L109.97,300.60L111.25,304.81L112.52,309.27L113.79,313.77L115.07,318.07L116.34,322.00L117.62,325.42L118.89,328.29L120.17,330.62L121.44,332.45L122.72,333.87L123.99,334.95L125.26,335.76L126.54,336.37L127.81,336.81L129.09,337.14L130.36,337.38L131.64,337.55L132.91,337.68L134.19,337.77L135.46,337.84L136.73,337.89L138.01,337.92L139.28,337.95L140.56,337.97L141.62,337.98" stroke="#c9c9c9" stroke-width="1.1" fill="none" />
<path d="M71.74,273.41L73.01,273.43L74.29,273.47L75.56,273.51L76.84,273.56L78.11,273.62L79.38,273.69L80.66,273.77L81.93,273.88L83.21,274.00L84.48,274.15L85.76,274.33L87.03,274.54L88.31,274.80L89.58,275.11L90.85,275.48L92.13,275.92L93.40,276.44L94.68,277.06L95.95,277.79L97.23,278.65L98.50,279.66L99.78,280.83L101.05,282.18L102.32,283.72L103.60,285.47L104.87,287.43L106.15,289.61L107.42,291.99L108.70,294.55L109.97,297.28L111.25,300.12L112.52,303.04L113.79,305.99L115.07,308.91L116.34,311.75L117.62,314.47L118.89,317.03L120.17,319.40L121.44,321.57L122.72,323.52L123.99,325.26L125.26,326.80L126.54,328.14L127.81,329.30L129.09,330.30L130.36,331.15L131.64,331.88L132.91,332.50L134.19,333.01L135.46,333.45L136.73,333.82L138.01,334.12L139.28,334.38L140.56,334.59L141.62,334.75" stroke="#a3a3a3" stroke-width="1.1" fill="none" />
<circle cx="71.65" cy="264.36" r="2.15" fill="#f28b8b" />
<circle cx="71.65" cy="277.43" r="2.15" fill="#f28b8b" />
<circle cx="71.65" cy="280.40" r="2.15" fill="#f28b8b" />
<circle cx="81.64" cy="279.21" r="2.15" fill="#f28b8b" />
<circle cx="81.64" cy="281.59" r="2.15" fill="#f28b8b" />
<circle cx="91.64" cy="276.24" r="2.15" fill="#f28b8b" />
<circle cx="91.64" cy="278.62" r="2.15" fill="#f28b8b" />
<circle cx="91.64" cy="280.40" r="2.15" fill="#f28b8b" />
<circle cx="101.63" cy="276.84" r="2.15" fill="#f28b8b" />
<circle cx="101.63" cy="279.21" r="2.15" fill="#f28b8b" />
<circle cx="101.63" cy="280.99" r="2.15" fill="#f28b8b" />
<circle cx="111.62" cy="281.59" r="2.15" fill="#f28b8b" />
<circle cx="111.62" cy="284.56" r="2.15" fill="#f28b8b" />
<circle cx="111.62" cy="289.31" r="2.15" fill="#f28b8b" />
<circle cx="121.64" cy="287.53" r="2.15" fill="#f28b8b" />
<circle cx="121.64" cy="292.28" r="2.15" fill="#f28b8b" />
<circle cx="121.64" cy="294.66" r="2.15" fill="#f28b8b" />
<circle cx="131.63" cy="316.04" r="2.15" fill="#f28b8b" />
<circle cx="131.63" cy="318.42" r="2.15" fill="#f28b8b" />
<circle cx="141.62" cy="330.89" r="2.15" fill="#f28b8b" />
<circle cx="141.62" cy="333.86" r="2.15" fill="#f28b8b" />
<circle cx="141.62" cy="335.05" r="2.15" fill="#f28b8b" />
<circle cx="71.65" cy="303.57" r="2.15" fill="#e8282b" />
<circle cx="71.65" cy="279.21" r="2.15" fill="#e8282b" />
<circle cx="81.64" cy="280.40" r="2.15" fill="#e8282b" />
<circle cx="91.64" cy="276.24" r="2.15" fill="#e8282b" />
<circle cx="101.63" cy="273.27" r="2.15" fill="#e8282b" />
<circle cx="101.63" cy="276.24" r="2.15" fill="#e8282b" />
<circle cx="111.62" cy="274.46" r="2.15" fill="#e8282b" />
<circle cx="111.62" cy="285.75" r="2.15" fill="#e8282b" />
<circle cx="111.62" cy="289.90" r="2.15" fill="#e8282b" />
<circle cx="121.64" cy="280.99" r="2.15" fill="#e8282b" />
<circle cx="121.64" cy="286.34" r="2.15" fill="#e8282b" />
<circle cx="131.63" cy="311.88" r="2.15" fill="#e8282b" />
<circle cx="131.63" cy="316.63" r="2.15" fill="#e8282b" />
<circle cx="141.62" cy="326.14" r="2.15" fill="#e8282b" />
<circle cx="141.62" cy="327.92" r="2.15" fill="#e8282b" />
<circle cx="141.62" cy="329.11" r="2.15" fill="#e8282b" />
<path d="M71.74,280.40L73.01,280.40L74.29,280.40L75.56,280.40L76.84,280.40L78.11,280.40L79.38,280.40L80.66,280.40L81.93,280.40L83.21,280.40L84.48,280.40L85.76,280.40L87.03,280.40L88.31,280.40L89.58,280.40L90.85,280.40L92.13,280.40L93.40,280.41L94.68,280.41L95.95,280.41L97.23,280.42L98.50,280.43L99.78,280.44L101.05,280.45L102.32,280.47L103.60,280.50L104.87,280.54L106.15,280.59L107.42,280.67L108.70,280.77L109.97,280.92L111.25,281.12L112.52,281.41L113.79,281.80L115.07,282.34L116.34,283.07L117.62,284.06L118.89,285.38L120.17,287.11L121.44,289.33L122.72,292.09L123.99,295.41L125.26,299.22L126.54,303.39L127.81,307.72L129.09,311.97L130.36,315.92L131.64,319.40L132.91,322.34L134.19,324.72L135.46,326.60L136.73,328.04L138.01,329.13L139.28,329.94L140.56,330.53L141.62,330.90" stroke="#f28b8b" stroke-width="1.1" fill="none" />
<path d="M71.74,280.40L73.01,280.40L74.29,280.40L75.56,280.40L76.84,280.40L78.11,280.40L79.38,280.40L80.66,280.40L81.93,280.40L83.21,280.40L84.48,280.40L85.76,280.40L87.03,280.40L88.31,280.40L89.58,280.40L90.85,280.40L92.13,280.40L93.40,280.40L94.68,280.40L95.95,280.40L97.23,280.40L98.50,280.40L99.78,280.41L101.05,280.41L102.32,280.41L103.60,280.42L104.87,280.43L106.15,280.45L107.42,280.47L108.70,280.50L109.97,280.55L111.25,280.62L112.52,280.73L113.79,280.89L115.07,281.12L116.34,281.46L117.62,281.95L118.89,282.66L120.17,283.67L121.44,285.08L122.72,287.02L123.99,289.58L125.26,292.84L126.54,296.76L127.81,301.18L129.09,305.82L130.36,310.33L131.64,314.42L132.91,317.87L134.19,320.63L135.46,322.74L136.73,324.29L138.01,325.41L139.28,326.19L140.56,326.74L141.62,327.06" stroke="#e8282b" stroke-width="1.1" fill="none" />
<text x="189.7" y="254.6" font-size="7.3" fill="#333" text-anchor="middle">GSK-LSD1</text>
<line x1="171.60" y1="256.00" x2="207.80" y2="256.00" stroke="#333" stroke-width="0.6" />
<text x="189.4" y="301.2" font-size="7.3" fill="#333" text-anchor="middle">AW4</text>
<line x1="182.10" y1="302.60" x2="196.70" y2="302.60" stroke="#333" stroke-width="0.6" />
<line x1="169.60" y1="266.20" x2="181.50" y2="266.20" stroke="#c9c9c9" stroke-width="1.2" />
<circle cx="175.60" cy="266.20" r="2.1" fill="#c9c9c9" />
<text x="184.60" y="268.70" font-size="7.3" fill="#333" >WT</text>
<line x1="169.60" y1="277.60" x2="181.50" y2="277.60" stroke="#a3a3a3" stroke-width="1.2" />
<circle cx="175.60" cy="277.60" r="2.1" fill="#a3a3a3" />
<text x="184.60" y="280.10" font-size="7.3" fill="#333" >ΔTTAS</text>
<line x1="169.60" y1="310.70" x2="181.50" y2="310.70" stroke="#f28b8b" stroke-width="1.2" />
<circle cx="175.60" cy="310.70" r="2.1" fill="#f28b8b" />
<text x="184.60" y="313.20" font-size="7.3" fill="#333" >WT</text>
<line x1="169.60" y1="322.80" x2="181.50" y2="322.80" stroke="#e8282b" stroke-width="1.2" />
<circle cx="175.60" cy="322.80" r="2.1" fill="#e8282b" />
<text x="184.60" y="325.30" font-size="7.3" fill="#333" >ΔTTAS</text>
<text x="266.20" y="238.10" font-size="9.92" fill="#231f20" stroke="#231f20" >WT LSD1-CoREST GFI1B(2-10) binding</text>
<line x1="277.50" y1="250.20" x2="277.50" y2="354.30" stroke="#2b2b2b" stroke-width="1.1" />
<line x1="274.90" y1="354.30" x2="277.50" y2="354.30" stroke="#2b2b2b" stroke-width="0.9" />
<text x="273.10" y="357.10" font-size="7.9" fill="#333" text-anchor="end" >0</text>
<line x1="274.90" y1="339.44" x2="277.50" y2="339.44" stroke="#2b2b2b" stroke-width="0.9" />
<text x="273.10" y="342.24" font-size="7.9" fill="#333" text-anchor="end" >25</text>
<line x1="274.90" y1="324.59" x2="277.50" y2="324.59" stroke="#2b2b2b" stroke-width="0.9" />
<text x="273.10" y="327.39" font-size="7.9" fill="#333" text-anchor="end" >50</text>
<line x1="274.90" y1="309.73" x2="277.50" y2="309.73" stroke="#2b2b2b" stroke-width="0.9" />
<text x="273.10" y="312.53" font-size="7.9" fill="#333" text-anchor="end" >75</text>
<line x1="274.90" y1="294.87" x2="277.50" y2="294.87" stroke="#2b2b2b" stroke-width="0.9" />
<text x="273.10" y="297.67" font-size="7.9" fill="#333" text-anchor="end" >100</text>
<line x1="274.90" y1="280.01" x2="277.50" y2="280.01" stroke="#2b2b2b" stroke-width="0.9" />
<text x="273.10" y="282.81" font-size="7.9" fill="#333" text-anchor="end" >125</text>
<line x1="274.90" y1="265.15" x2="277.50" y2="265.15" stroke="#2b2b2b" stroke-width="0.9" />
<text x="273.10" y="267.95" font-size="7.9" fill="#333" text-anchor="end" >150</text>
<line x1="274.90" y1="250.30" x2="277.50" y2="250.30" stroke="#2b2b2b" stroke-width="0.9" />
<text x="273.10" y="253.10" font-size="7.9" fill="#333" text-anchor="end" >175</text>
<line x1="277.00" y1="354.30" x2="434.50" y2="354.30" stroke="#2b2b2b" stroke-width="1.1" />
<line x1="277.50" y1="354.30" x2="277.50" y2="357.60" stroke="#2b2b2b" stroke-width="0.8" />
<line x1="289.32" y1="354.30" x2="289.32" y2="356.20" stroke="#2b2b2b" stroke-width="0.8" />
<line x1="296.23" y1="354.30" x2="296.23" y2="356.20" stroke="#2b2b2b" stroke-width="0.8" />
<line x1="301.13" y1="354.30" x2="301.13" y2="356.20" stroke="#2b2b2b" stroke-width="0.8" />
<line x1="304.93" y1="354.30" x2="304.93" y2="356.20" stroke="#2b2b2b" stroke-width="0.8" />
<line x1="308.04" y1="354.30" x2="308.04" y2="356.20" stroke="#2b2b2b" stroke-width="0.8" />
<line x1="310.67" y1="354.30" x2="310.67" y2="356.20" stroke="#2b2b2b" stroke-width="0.8" />
<line x1="312.95" y1="354.30" x2="312.95" y2="356.20" stroke="#2b2b2b" stroke-width="0.8" />
<line x1="314.95" y1="354.30" x2="314.95" y2="356.20" stroke="#2b2b2b" stroke-width="0.8" />
<line x1="316.75" y1="354.30" x2="316.75" y2="357.60" stroke="#2b2b2b" stroke-width="0.8" />
<line x1="328.57" y1="354.30" x2="328.57" y2="356.20" stroke="#2b2b2b" stroke-width="0.8" />
<line x1="335.48" y1="354.30" x2="335.48" y2="356.20" stroke="#2b2b2b" stroke-width="0.8" />
<line x1="340.38" y1="354.30" x2="340.38" y2="356.20" stroke="#2b2b2b" stroke-width="0.8" />
<line x1="344.18" y1="354.30" x2="344.18" y2="356.20" stroke="#2b2b2b" stroke-width="0.8" />
<line x1="347.29" y1="354.30" x2="347.29" y2="356.20" stroke="#2b2b2b" stroke-width="0.8" />
<line x1="349.92" y1="354.30" x2="349.92" y2="356.20" stroke="#2b2b2b" stroke-width="0.8" />
<line x1="352.20" y1="354.30" x2="352.20" y2="356.20" stroke="#2b2b2b" stroke-width="0.8" />
<line x1="354.20" y1="354.30" x2="354.20" y2="356.20" stroke="#2b2b2b" stroke-width="0.8" />
<line x1="356.00" y1="354.30" x2="356.00" y2="357.60" stroke="#2b2b2b" stroke-width="0.8" />
<line x1="367.82" y1="354.30" x2="367.82" y2="356.20" stroke="#2b2b2b" stroke-width="0.8" />
<line x1="374.73" y1="354.30" x2="374.73" y2="356.20" stroke="#2b2b2b" stroke-width="0.8" />
<line x1="379.63" y1="354.30" x2="379.63" y2="356.20" stroke="#2b2b2b" stroke-width="0.8" />
<line x1="383.43" y1="354.30" x2="383.43" y2="356.20" stroke="#2b2b2b" stroke-width="0.8" />
<line x1="386.54" y1="354.30" x2="386.54" y2="356.20" stroke="#2b2b2b" stroke-width="0.8" />
<line x1="389.17" y1="354.30" x2="389.17" y2="356.20" stroke="#2b2b2b" stroke-width="0.8" />
<line x1="391.45" y1="354.30" x2="391.45" y2="356.20" stroke="#2b2b2b" stroke-width="0.8" />
<line x1="393.45" y1="354.30" x2="393.45" y2="356.20" stroke="#2b2b2b" stroke-width="0.8" />
<line x1="395.25" y1="354.30" x2="395.25" y2="357.60" stroke="#2b2b2b" stroke-width="0.8" />
<line x1="407.07" y1="354.30" x2="407.07" y2="356.20" stroke="#2b2b2b" stroke-width="0.8" />
<line x1="413.98" y1="354.30" x2="413.98" y2="356.20" stroke="#2b2b2b" stroke-width="0.8" />
<line x1="418.88" y1="354.30" x2="418.88" y2="356.20" stroke="#2b2b2b" stroke-width="0.8" />
<line x1="422.68" y1="354.30" x2="422.68" y2="356.20" stroke="#2b2b2b" stroke-width="0.8" />
<line x1="425.79" y1="354.30" x2="425.79" y2="356.20" stroke="#2b2b2b" stroke-width="0.8" />
<line x1="428.42" y1="354.30" x2="428.42" y2="356.20" stroke="#2b2b2b" stroke-width="0.8" />
<line x1="430.70" y1="354.30" x2="430.70" y2="356.20" stroke="#2b2b2b" stroke-width="0.8" />
<line x1="432.70" y1="354.30" x2="432.70" y2="356.20" stroke="#2b2b2b" stroke-width="0.8" />
<line x1="434.50" y1="354.30" x2="434.50" y2="357.60" stroke="#2b2b2b" stroke-width="0.8" />
<text x="277.50" y="366.90" font-size="7.35" fill="#333" text-anchor="middle" >0.1</text>
<text x="316.75" y="366.90" font-size="7.35" fill="#333" text-anchor="middle" >1</text>
<text x="356.00" y="366.90" font-size="7.35" fill="#333" text-anchor="middle" >10</text>
<text x="395.25" y="366.90" font-size="7.35" fill="#333" text-anchor="middle" >100</text>
<text x="434.50" y="366.90" font-size="7.35" fill="#333" text-anchor="middle" >1000</text>
<text x="355.50" y="379.20" font-size="8.4" fill="#231f20" stroke="#231f20" text-anchor="middle" >[WT LSD1-CoREST], nM</text>
<text transform="translate(254.90,302.20) rotate(-90)" font-size="8.25" fill="#231f20" stroke="#231f20" text-anchor="middle">Fluorescence Polarization, mP</text>
<circle cx="287.52" cy="333.21" r="1.7" fill="#9e1b20" />
<circle cx="287.52" cy="334.31" r="1.7" fill="#9e1b20" />
<circle cx="287.52" cy="334.65" r="1.7" fill="#9e1b20" />
<circle cx="299.33" cy="333.11" r="1.7" fill="#9e1b20" />
<circle cx="299.33" cy="331.64" r="1.7" fill="#9e1b20" />
<circle cx="311.15" cy="333.27" r="1.7" fill="#9e1b20" />
<circle cx="311.15" cy="333.37" r="1.7" fill="#9e1b20" />
<circle cx="311.15" cy="332.92" r="1.7" fill="#9e1b20" />
<circle cx="322.97" cy="329.17" r="1.7" fill="#9e1b20" />
<circle cx="322.97" cy="327.47" r="1.7" fill="#9e1b20" />
<circle cx="322.97" cy="329.55" r="1.7" fill="#9e1b20" />
<circle cx="334.78" cy="325.85" r="1.7" fill="#9e1b20" />
<circle cx="334.78" cy="324.86" r="1.7" fill="#9e1b20" />
<circle cx="346.60" cy="326.68" r="1.7" fill="#9e1b20" />
<circle cx="346.60" cy="325.88" r="1.7" fill="#9e1b20" />
<circle cx="346.60" cy="323.20" r="1.7" fill="#9e1b20" />
<circle cx="358.41" cy="319.59" r="1.7" fill="#9e1b20" />
<circle cx="358.41" cy="318.80" r="1.7" fill="#9e1b20" />
<circle cx="370.23" cy="312.35" r="1.7" fill="#9e1b20" />
<circle cx="370.23" cy="313.56" r="1.7" fill="#9e1b20" />
<circle cx="370.23" cy="316.06" r="1.7" fill="#9e1b20" />
<circle cx="382.04" cy="310.55" r="1.7" fill="#9e1b20" />
<circle cx="382.04" cy="313.17" r="1.7" fill="#9e1b20" />
<circle cx="382.04" cy="312.72" r="1.7" fill="#9e1b20" />
<circle cx="393.86" cy="308.04" r="1.7" fill="#9e1b20" />
<circle cx="393.86" cy="311.94" r="1.7" fill="#9e1b20" />
<circle cx="405.67" cy="311.67" r="1.7" fill="#9e1b20" />
<circle cx="405.67" cy="312.86" r="1.7" fill="#9e1b20" />
<circle cx="417.49" cy="310.74" r="1.7" fill="#9e1b20" />
<circle cx="417.49" cy="312.46" r="1.7" fill="#9e1b20" />
<circle cx="429.30" cy="312.87" r="1.7" fill="#9e1b20" />
<circle cx="429.30" cy="312.83" r="1.7" fill="#9e1b20" />
<circle cx="287.52" cy="333.42" r="1.7" fill="#1f3794" />
<circle cx="287.52" cy="332.59" r="1.7" fill="#1f3794" />
<circle cx="299.33" cy="335.47" r="1.7" fill="#1f3794" />
<circle cx="299.33" cy="335.57" r="1.7" fill="#1f3794" />
<circle cx="311.15" cy="333.19" r="1.7" fill="#1f3794" />
<circle cx="311.15" cy="335.31" r="1.7" fill="#1f3794" />
<circle cx="322.97" cy="334.81" r="1.7" fill="#1f3794" />
<circle cx="322.97" cy="331.74" r="1.7" fill="#1f3794" />
<circle cx="322.97" cy="335.58" r="1.7" fill="#1f3794" />
<circle cx="334.78" cy="335.10" r="1.7" fill="#1f3794" />
<circle cx="334.78" cy="335.68" r="1.7" fill="#1f3794" />
<circle cx="334.78" cy="332.45" r="1.7" fill="#1f3794" />
<circle cx="346.60" cy="336.42" r="1.7" fill="#1f3794" />
<circle cx="346.60" cy="333.43" r="1.7" fill="#1f3794" />
<circle cx="358.41" cy="336.70" r="1.7" fill="#1f3794" />
<circle cx="358.41" cy="333.81" r="1.7" fill="#1f3794" />
<circle cx="358.41" cy="336.95" r="1.7" fill="#1f3794" />
<circle cx="370.23" cy="338.07" r="1.7" fill="#1f3794" />
<circle cx="370.23" cy="336.60" r="1.7" fill="#1f3794" />
<circle cx="370.23" cy="333.16" r="1.7" fill="#1f3794" />
<circle cx="382.04" cy="336.78" r="1.7" fill="#1f3794" />
<circle cx="382.04" cy="333.29" r="1.7" fill="#1f3794" />
<circle cx="382.04" cy="336.57" r="1.7" fill="#1f3794" />
<circle cx="393.86" cy="335.44" r="1.7" fill="#1f3794" />
<circle cx="393.86" cy="336.55" r="1.7" fill="#1f3794" />
<circle cx="405.67" cy="339.04" r="1.7" fill="#1f3794" />
<circle cx="405.67" cy="338.69" r="1.7" fill="#1f3794" />
<circle cx="417.49" cy="343.31" r="1.7" fill="#1f3794" />
<circle cx="417.49" cy="343.82" r="1.7" fill="#1f3794" />
<circle cx="417.49" cy="339.19" r="1.7" fill="#1f3794" />
<circle cx="429.30" cy="344.34" r="1.7" fill="#1f3794" />
<circle cx="429.30" cy="342.24" r="1.7" fill="#1f3794" />
<circle cx="287.52" cy="335.57" r="1.7" fill="#ee3124" />
<circle cx="287.52" cy="332.12" r="1.7" fill="#ee3124" />
<circle cx="299.33" cy="331.10" r="1.7" fill="#ee3124" />
<circle cx="299.33" cy="334.30" r="1.7" fill="#ee3124" />
<circle cx="311.15" cy="330.94" r="1.7" fill="#ee3124" />
<circle cx="311.15" cy="331.88" r="1.7" fill="#ee3124" />
<circle cx="322.97" cy="333.44" r="1.7" fill="#ee3124" />
<circle cx="322.97" cy="332.97" r="1.7" fill="#ee3124" />
<circle cx="322.97" cy="331.21" r="1.7" fill="#ee3124" />
<circle cx="334.78" cy="331.81" r="1.7" fill="#ee3124" />
<circle cx="334.78" cy="332.03" r="1.7" fill="#ee3124" />
<circle cx="334.78" cy="329.22" r="1.7" fill="#ee3124" />
<circle cx="346.60" cy="328.04" r="1.7" fill="#ee3124" />
<circle cx="346.60" cy="328.41" r="1.7" fill="#ee3124" />
<circle cx="358.41" cy="328.46" r="1.7" fill="#ee3124" />
<circle cx="358.41" cy="326.46" r="1.7" fill="#ee3124" />
<circle cx="370.23" cy="325.51" r="1.7" fill="#ee3124" />
<circle cx="370.23" cy="324.44" r="1.7" fill="#ee3124" />
<circle cx="370.23" cy="324.61" r="1.7" fill="#ee3124" />
<circle cx="382.04" cy="320.08" r="1.7" fill="#ee3124" />
<circle cx="382.04" cy="318.47" r="1.7" fill="#ee3124" />
<circle cx="393.86" cy="314.57" r="1.7" fill="#ee3124" />
<circle cx="393.86" cy="312.86" r="1.7" fill="#ee3124" />
<circle cx="393.86" cy="314.21" r="1.7" fill="#ee3124" />
<circle cx="405.67" cy="308.62" r="1.7" fill="#ee3124" />
<circle cx="405.67" cy="308.46" r="1.7" fill="#ee3124" />
<circle cx="405.67" cy="312.00" r="1.7" fill="#ee3124" />
<circle cx="417.49" cy="307.11" r="1.7" fill="#ee3124" />
<circle cx="417.49" cy="305.50" r="1.7" fill="#ee3124" />
<circle cx="429.30" cy="303.44" r="1.7" fill="#ee3124" />
<circle cx="429.30" cy="302.45" r="1.7" fill="#ee3124" />
<circle cx="287.52" cy="335.08" r="1.7" fill="#3d8ad6" />
<circle cx="287.52" cy="332.14" r="1.7" fill="#3d8ad6" />
<circle cx="287.52" cy="332.65" r="1.7" fill="#3d8ad6" />
<circle cx="299.33" cy="333.35" r="1.7" fill="#3d8ad6" />
<circle cx="299.33" cy="333.28" r="1.7" fill="#3d8ad6" />
<circle cx="311.15" cy="333.38" r="1.7" fill="#3d8ad6" />
<circle cx="311.15" cy="335.54" r="1.7" fill="#3d8ad6" />
<circle cx="322.97" cy="333.87" r="1.7" fill="#3d8ad6" />
<circle cx="322.97" cy="335.37" r="1.7" fill="#3d8ad6" />
<circle cx="334.78" cy="336.17" r="1.7" fill="#3d8ad6" />
<circle cx="334.78" cy="335.71" r="1.7" fill="#3d8ad6" />
<circle cx="334.78" cy="333.06" r="1.7" fill="#3d8ad6" />
<circle cx="346.60" cy="331.44" r="1.7" fill="#3d8ad6" />
<circle cx="346.60" cy="332.20" r="1.7" fill="#3d8ad6" />
<circle cx="358.41" cy="331.74" r="1.7" fill="#3d8ad6" />
<circle cx="358.41" cy="332.03" r="1.7" fill="#3d8ad6" />
<circle cx="370.23" cy="331.43" r="1.7" fill="#3d8ad6" />
<circle cx="370.23" cy="331.82" r="1.7" fill="#3d8ad6" />
<circle cx="370.23" cy="330.85" r="1.7" fill="#3d8ad6" />
<circle cx="382.04" cy="332.82" r="1.7" fill="#3d8ad6" />
<circle cx="382.04" cy="333.40" r="1.7" fill="#3d8ad6" />
<circle cx="382.04" cy="330.25" r="1.7" fill="#3d8ad6" />
<circle cx="393.86" cy="330.12" r="1.7" fill="#3d8ad6" />
<circle cx="393.86" cy="329.08" r="1.7" fill="#3d8ad6" />
<circle cx="393.86" cy="330.27" r="1.7" fill="#3d8ad6" />
<circle cx="405.67" cy="330.24" r="1.7" fill="#3d8ad6" />
<circle cx="405.67" cy="329.06" r="1.7" fill="#3d8ad6" />
<circle cx="417.49" cy="327.27" r="1.7" fill="#3d8ad6" />
<circle cx="417.49" cy="327.92" r="1.7" fill="#3d8ad6" />
<circle cx="417.49" cy="327.00" r="1.7" fill="#3d8ad6" />
<circle cx="429.30" cy="327.46" r="1.7" fill="#3d8ad6" />
<circle cx="429.30" cy="326.09" r="1.7" fill="#3d8ad6" />
<circle cx="287.52" cy="330.75" r="1.7" fill="#9b9b9b" />
<circle cx="287.52" cy="328.90" r="1.7" fill="#9b9b9b" />
<circle cx="287.52" cy="330.18" r="1.7" fill="#9b9b9b" />
<circle cx="299.33" cy="331.19" r="1.7" fill="#9b9b9b" />
<circle cx="299.33" cy="328.59" r="1.7" fill="#9b9b9b" />
<circle cx="299.33" cy="329.31" r="1.7" fill="#9b9b9b" />
<circle cx="311.15" cy="324.04" r="1.7" fill="#9b9b9b" />
<circle cx="311.15" cy="324.68" r="1.7" fill="#9b9b9b" />
<circle cx="311.15" cy="324.99" r="1.7" fill="#9b9b9b" />
<circle cx="322.97" cy="318.41" r="1.7" fill="#9b9b9b" />
<circle cx="322.97" cy="322.76" r="1.7" fill="#9b9b9b" />
<circle cx="334.78" cy="313.70" r="1.7" fill="#9b9b9b" />
<circle cx="334.78" cy="319.74" r="1.7" fill="#9b9b9b" />
<circle cx="334.78" cy="314.32" r="1.7" fill="#9b9b9b" />
<circle cx="346.60" cy="309.58" r="1.7" fill="#9b9b9b" />
<circle cx="346.60" cy="307.40" r="1.7" fill="#9b9b9b" />
<circle cx="358.41" cy="299.48" r="1.7" fill="#9b9b9b" />
<circle cx="358.41" cy="304.54" r="1.7" fill="#9b9b9b" />
<circle cx="358.41" cy="298.61" r="1.7" fill="#9b9b9b" />
<circle cx="370.23" cy="296.37" r="1.7" fill="#9b9b9b" />
<circle cx="370.23" cy="289.98" r="1.7" fill="#9b9b9b" />
<circle cx="382.04" cy="289.12" r="1.7" fill="#9b9b9b" />
<circle cx="382.04" cy="286.90" r="1.7" fill="#9b9b9b" />
<circle cx="382.04" cy="288.96" r="1.7" fill="#9b9b9b" />
<circle cx="393.86" cy="278.20" r="1.7" fill="#9b9b9b" />
<circle cx="393.86" cy="280.51" r="1.7" fill="#9b9b9b" />
<circle cx="393.86" cy="277.53" r="1.7" fill="#9b9b9b" />
<circle cx="405.67" cy="276.77" r="1.7" fill="#9b9b9b" />
<circle cx="405.67" cy="277.11" r="1.7" fill="#9b9b9b" />
<circle cx="417.49" cy="275.45" r="1.7" fill="#9b9b9b" />
<circle cx="417.49" cy="275.32" r="1.7" fill="#9b9b9b" />
<circle cx="429.30" cy="273.41" r="1.7" fill="#9b9b9b" />
<circle cx="429.30" cy="274.07" r="1.7" fill="#9b9b9b" />
<circle cx="429.30" cy="276.59" r="1.7" fill="#9b9b9b" />
<circle cx="287.52" cy="325.80" r="1.7" fill="#c4c4c4" />
<circle cx="287.52" cy="325.85" r="1.7" fill="#c4c4c4" />
<circle cx="287.52" cy="326.30" r="1.7" fill="#c4c4c4" />
<circle cx="299.33" cy="326.87" r="1.7" fill="#c4c4c4" />
<circle cx="299.33" cy="326.40" r="1.7" fill="#c4c4c4" />
<circle cx="299.33" cy="328.79" r="1.7" fill="#c4c4c4" />
<circle cx="311.15" cy="324.33" r="1.7" fill="#c4c4c4" />
<circle cx="311.15" cy="323.36" r="1.7" fill="#c4c4c4" />
<circle cx="311.15" cy="327.51" r="1.7" fill="#c4c4c4" />
<circle cx="322.97" cy="324.20" r="1.7" fill="#c4c4c4" />
<circle cx="322.97" cy="321.84" r="1.7" fill="#c4c4c4" />
<circle cx="322.97" cy="319.75" r="1.7" fill="#c4c4c4" />
<circle cx="334.78" cy="316.72" r="1.7" fill="#c4c4c4" />
<circle cx="334.78" cy="317.90" r="1.7" fill="#c4c4c4" />
<circle cx="346.60" cy="309.46" r="1.7" fill="#c4c4c4" />
<circle cx="346.60" cy="309.68" r="1.7" fill="#c4c4c4" />
<circle cx="346.60" cy="312.41" r="1.7" fill="#c4c4c4" />
<circle cx="358.41" cy="299.54" r="1.7" fill="#c4c4c4" />
<circle cx="358.41" cy="304.11" r="1.7" fill="#c4c4c4" />
<circle cx="370.23" cy="293.62" r="1.7" fill="#c4c4c4" />
<circle cx="370.23" cy="293.32" r="1.7" fill="#c4c4c4" />
<circle cx="382.04" cy="281.09" r="1.7" fill="#c4c4c4" />
<circle cx="382.04" cy="283.77" r="1.7" fill="#c4c4c4" />
<circle cx="393.86" cy="275.45" r="1.7" fill="#c4c4c4" />
<circle cx="393.86" cy="274.73" r="1.7" fill="#c4c4c4" />
<circle cx="405.67" cy="273.48" r="1.7" fill="#c4c4c4" />
<circle cx="405.67" cy="273.00" r="1.7" fill="#c4c4c4" />
<circle cx="405.67" cy="269.61" r="1.7" fill="#c4c4c4" />
<circle cx="417.49" cy="264.36" r="1.7" fill="#c4c4c4" />
<circle cx="417.49" cy="264.37" r="1.7" fill="#c4c4c4" />
<circle cx="417.49" cy="265.29" r="1.7" fill="#c4c4c4" />
<circle cx="429.30" cy="266.47" r="1.7" fill="#c4c4c4" />
<circle cx="429.30" cy="266.98" r="1.7" fill="#c4c4c4" />
<circle cx="429.30" cy="266.63" r="1.7" fill="#c4c4c4" />
<path d="M287.52,333.03L288.71,333.00L289.90,332.96L291.10,332.92L292.29,332.88L293.48,332.84L294.67,332.79L295.86,332.74L297.06,332.69L298.25,332.63L299.44,332.57L300.63,332.51L301.82,332.44L303.02,332.36L304.21,332.29L305.40,332.20L306.59,332.11L307.78,332.02L308.98,331.92L310.17,331.81L311.36,331.70L312.55,331.57L313.74,331.45L314.94,331.31L316.13,331.16L317.32,331.01L318.51,330.85L319.70,330.68L320.90,330.50L322.09,330.31L323.28,330.10L324.47,329.89L325.66,329.67L326.86,329.43L328.05,329.19L329.24,328.93L330.43,328.66L331.62,328.38L332.82,328.08L334.01,327.78L335.20,327.46L336.39,327.13L337.58,326.78L338.78,326.43L339.97,326.06L341.16,325.68L342.35,325.29L343.54,324.89L344.74,324.48L345.93,324.06L347.12,323.64L348.31,323.21L349.50,322.77L350.70,322.32L351.89,321.87L353.08,321.42L354.27,320.96L355.46,320.51L356.66,320.05L357.85,319.60L359.04,319.15L360.23,318.70L361.42,318.26L362.62,317.82L363.81,317.39L365.00,316.97L366.19,316.56L367.38,316.15L368.58,315.76L369.77,315.38L370.96,315.01L372.15,314.66L373.34,314.32L374.54,313.99L375.73,313.68L376.92,313.38L378.11,313.09L379.30,312.82L380.50,312.57L381.69,312.33L382.88,312.11L384.07,311.90L385.26,311.70L386.46,311.52L387.65,311.35L388.84,311.20L390.03,311.06L391.22,310.94L392.42,310.83L393.61,310.73L394.80,310.64L395.99,310.57L397.18,310.51L398.38,310.46L399.57,310.42L400.76,310.39L401.95,310.37L403.14,310.37L404.34,310.37L405.53,310.38L406.72,310.40L407.91,310.43L409.10,310.46L410.30,310.50L411.49,310.55L412.68,310.61L413.87,310.67L415.06,310.74L416.26,310.81L417.45,310.88L418.64,310.96L419.83,311.04L421.02,311.12L422.22,311.21L423.41,311.30L424.60,311.38L425.79,311.47L426.98,311.56L428.18,311.65L429.37,311.74" stroke="#9e1b20" stroke-width="0.9" fill="none" />
<path d="M287.52,334.10L288.71,334.10L289.90,334.11L291.10,334.11L292.29,334.11L293.48,334.11L294.67,334.11L295.86,334.11L297.06,334.11L298.25,334.11L299.44,334.11L300.63,334.12L301.82,334.12L303.02,334.12L304.21,334.12L305.40,334.12L306.59,334.12L307.78,334.13L308.98,334.13L310.17,334.13L311.36,334.13L312.55,334.14L313.74,334.14L314.94,334.14L316.13,334.15L317.32,334.15L318.51,334.16L319.70,334.16L320.90,334.17L322.09,334.17L323.28,334.18L324.47,334.18L325.66,334.19L326.86,334.20L328.05,334.20L329.24,334.21L330.43,334.22L331.62,334.23L332.82,334.24L334.01,334.25L335.20,334.26L336.39,334.27L337.58,334.28L338.78,334.30L339.97,334.31L341.16,334.33L342.35,334.34L343.54,334.36L344.74,334.38L345.93,334.40L347.12,334.42L348.31,334.44L349.50,334.47L350.70,334.49L351.89,334.52L353.08,334.55L354.27,334.58L355.46,334.62L356.66,334.65L357.85,334.69L359.04,334.73L360.23,334.77L361.42,334.82L362.62,334.87L363.81,334.92L365.00,334.98L366.19,335.03L367.38,335.10L368.58,335.16L369.77,335.23L370.96,335.31L372.15,335.38L373.34,335.47L374.54,335.55L375.73,335.64L376.92,335.74L378.11,335.84L379.30,335.95L380.50,336.06L381.69,336.17L382.88,336.29L384.07,336.42L385.26,336.55L386.46,336.69L387.65,336.83L388.84,336.98L390.03,337.13L391.22,337.29L392.42,337.45L393.61,337.62L394.80,337.79L395.99,337.97L397.18,338.15L398.38,338.33L399.57,338.52L400.76,338.71L401.95,338.90L403.14,339.09L404.34,339.29L405.53,339.49L406.72,339.68L407.91,339.88L409.10,340.08L410.30,340.27L411.49,340.47L412.68,340.66L413.87,340.85L415.06,341.04L416.26,341.23L417.45,341.41L418.64,341.59L419.83,341.76L421.02,341.93L422.22,342.10L423.41,342.26L424.60,342.41L425.79,342.56L426.98,342.71L428.18,342.85L429.37,342.98" stroke="#1f3794" stroke-width="0.9" fill="none" />
<path d="M287.52,333.25L288.71,333.23L289.90,333.22L291.10,333.20L292.29,333.18L293.48,333.16L294.67,333.15L295.86,333.13L297.06,333.10L298.25,333.08L299.44,333.06L300.63,333.03L301.82,333.01L303.02,332.98L304.21,332.95L305.40,332.92L306.59,332.88L307.78,332.85L308.98,332.81L310.17,332.77L311.36,332.73L312.55,332.69L313.74,332.65L314.94,332.60L316.13,332.55L317.32,332.49L318.51,332.44L319.70,332.38L320.90,332.32L322.09,332.25L323.28,332.18L324.47,332.11L325.66,332.03L326.86,331.95L328.05,331.86L329.24,331.77L330.43,331.68L331.62,331.58L332.82,331.48L334.01,331.37L335.20,331.25L336.39,331.13L337.58,331.00L338.78,330.87L339.97,330.73L341.16,330.58L342.35,330.43L343.54,330.27L344.74,330.10L345.93,329.92L347.12,329.74L348.31,329.55L349.50,329.34L350.70,329.13L351.89,328.91L353.08,328.68L354.27,328.44L355.46,328.20L356.66,327.94L357.85,327.67L359.04,327.39L360.23,327.10L361.42,326.80L362.62,326.48L363.81,326.16L365.00,325.83L366.19,325.48L367.38,325.12L368.58,324.76L369.77,324.38L370.96,323.99L372.15,323.59L373.34,323.18L374.54,322.76L375.73,322.33L376.92,321.89L378.11,321.44L379.30,320.98L380.50,320.51L381.69,320.04L382.88,319.56L384.07,319.07L385.26,318.57L386.46,318.07L387.65,317.57L388.84,317.06L390.03,316.55L391.22,316.04L392.42,315.53L393.61,315.01L394.80,314.49L395.99,313.98L397.18,313.47L398.38,312.96L399.57,312.45L400.76,311.95L401.95,311.45L403.14,310.96L404.34,310.47L405.53,309.99L406.72,309.52L407.91,309.06L409.10,308.60L410.30,308.15L411.49,307.71L412.68,307.29L413.87,306.87L415.06,306.46L416.26,306.06L417.45,305.68L418.64,305.30L419.83,304.94L421.02,304.58L422.22,304.24L423.41,303.91L424.60,303.59L425.79,303.28L426.98,302.98L428.18,302.69L429.37,302.41" stroke="#ee3124" stroke-width="0.9" fill="none" />
<path d="M287.52,334.08L288.71,334.08L289.90,334.08L291.10,334.08L292.29,334.08L293.48,334.08L294.67,334.08L295.86,334.08L297.06,334.08L298.25,334.08L299.44,334.07L300.63,334.07L301.82,334.07L303.02,334.07L304.21,334.07L305.40,334.07L306.59,334.06L307.78,334.06L308.98,334.06L310.17,334.06L311.36,334.05L312.55,334.05L313.74,334.05L314.94,334.04L316.13,334.04L317.32,334.04L318.51,334.03L319.70,334.03L320.90,334.02L322.09,334.02L323.28,334.01L324.47,334.01L325.66,334.00L326.86,333.99L328.05,333.99L329.24,333.98L330.43,333.97L331.62,333.96L332.82,333.95L334.01,333.94L335.20,333.93L336.39,333.92L337.58,333.91L338.78,333.90L339.97,333.88L341.16,333.87L342.35,333.85L343.54,333.84L344.74,333.82L345.93,333.80L347.12,333.78L348.31,333.75L349.50,333.73L350.70,333.71L351.89,333.68L353.08,333.65L354.27,333.62L355.46,333.59L356.66,333.55L357.85,333.52L359.04,333.48L360.23,333.44L361.42,333.40L362.62,333.35L363.81,333.30L365.00,333.25L366.19,333.19L367.38,333.14L368.58,333.08L369.77,333.01L370.96,332.94L372.15,332.87L373.34,332.80L374.54,332.72L375.73,332.64L376.92,332.55L378.11,332.46L379.30,332.37L380.50,332.27L381.69,332.17L382.88,332.06L384.07,331.95L385.26,331.84L386.46,331.73L387.65,331.61L388.84,331.48L390.03,331.35L391.22,331.22L392.42,331.09L393.61,330.96L394.80,330.82L395.99,330.68L397.18,330.54L398.38,330.39L399.57,330.25L400.76,330.10L401.95,329.96L403.14,329.81L404.34,329.67L405.53,329.52L406.72,329.38L407.91,329.24L409.10,329.10L410.30,328.96L411.49,328.82L412.68,328.69L413.87,328.56L415.06,328.43L416.26,328.31L417.45,328.18L418.64,328.07L419.83,327.95L421.02,327.84L422.22,327.73L423.41,327.63L424.60,327.53L425.79,327.44L426.98,327.35L428.18,327.26L429.37,327.18" stroke="#3d8ad6" stroke-width="0.9" fill="none" />
<path d="M287.52,329.11L288.71,329.00L289.90,328.88L291.10,328.75L292.29,328.62L293.48,328.48L294.67,328.34L295.86,328.19L297.06,328.03L298.25,327.86L299.44,327.68L300.63,327.50L301.82,327.30L303.02,327.10L304.21,326.88L305.40,326.66L306.59,326.42L307.78,326.17L308.98,325.91L310.17,325.64L311.36,325.35L312.55,325.05L313.74,324.74L314.94,324.42L316.13,324.07L317.32,323.72L318.51,323.35L319.70,322.96L320.90,322.56L322.09,322.14L323.28,321.70L324.47,321.25L325.66,320.78L326.86,320.29L328.05,319.79L329.24,319.27L330.43,318.72L331.62,318.16L332.82,317.59L334.01,316.99L335.20,316.38L336.39,315.75L337.58,315.10L338.78,314.43L339.97,313.75L341.16,313.05L342.35,312.34L343.54,311.61L344.74,310.87L345.93,310.11L347.12,309.34L348.31,308.56L349.50,307.76L350.70,306.96L351.89,306.15L353.08,305.33L354.27,304.50L355.46,303.67L356.66,302.84L357.85,302.00L359.04,301.16L360.23,300.32L361.42,299.48L362.62,298.65L363.81,297.81L365.00,296.99L366.19,296.17L367.38,295.35L368.58,294.55L369.77,293.76L370.96,292.97L372.15,292.20L373.34,291.44L374.54,290.70L375.73,289.97L376.92,289.25L378.11,288.55L379.30,287.86L380.50,287.20L381.69,286.55L382.88,285.91L384.07,285.30L385.26,284.70L386.46,284.12L387.65,283.56L388.84,283.02L390.03,282.49L391.22,281.98L392.42,281.49L393.61,281.02L394.80,280.57L395.99,280.13L397.18,279.71L398.38,279.30L399.57,278.92L400.76,278.54L401.95,278.19L403.14,277.84L404.34,277.52L405.53,277.20L406.72,276.90L407.91,276.62L409.10,276.34L410.30,276.08L411.49,275.83L412.68,275.59L413.87,275.36L415.06,275.15L416.26,274.94L417.45,274.75L418.64,274.56L419.83,274.38L421.02,274.21L422.22,274.05L423.41,273.90L424.60,273.75L425.79,273.61L426.98,273.48L428.18,273.36L429.37,273.24" stroke="#9b9b9b" stroke-width="0.9" fill="none" />
<path d="M287.52,327.97L288.71,327.89L289.90,327.81L291.10,327.71L292.29,327.62L293.48,327.51L294.67,327.41L295.86,327.29L297.06,327.17L298.25,327.04L299.44,326.91L300.63,326.76L301.82,326.61L303.02,326.45L304.21,326.28L305.40,326.10L306.59,325.92L307.78,325.72L308.98,325.51L310.17,325.29L311.36,325.06L312.55,324.81L313.74,324.55L314.94,324.28L316.13,324.00L317.32,323.70L318.51,323.39L319.70,323.06L320.90,322.71L322.09,322.35L323.28,321.96L324.47,321.57L325.66,321.15L326.86,320.71L328.05,320.26L329.24,319.78L330.43,319.28L331.62,318.76L332.82,318.22L334.01,317.66L335.20,317.08L336.39,316.47L337.58,315.85L338.78,315.20L339.97,314.52L341.16,313.83L342.35,313.11L343.54,312.37L344.74,311.60L345.93,310.82L347.12,310.02L348.31,309.19L349.50,308.35L350.70,307.48L351.89,306.60L353.08,305.70L354.27,304.79L355.46,303.86L356.66,302.92L357.85,301.97L359.04,301.01L360.23,300.03L361.42,299.06L362.62,298.07L363.81,297.09L365.00,296.10L366.19,295.11L367.38,294.12L368.58,293.14L369.77,292.16L370.96,291.19L372.15,290.22L373.34,289.27L374.54,288.33L375.73,287.40L376.92,286.48L378.11,285.58L379.30,284.70L380.50,283.84L381.69,282.99L382.88,282.16L384.07,281.36L385.26,280.57L386.46,279.81L387.65,279.07L388.84,278.35L390.03,277.65L391.22,276.97L392.42,276.32L393.61,275.69L394.80,275.08L395.99,274.50L397.18,273.94L398.38,273.39L399.57,272.87L400.76,272.38L401.95,271.90L403.14,271.44L404.34,271.00L405.53,270.58L406.72,270.18L407.91,269.80L409.10,269.44L410.30,269.09L411.49,268.76L412.68,268.44L413.87,268.14L415.06,267.85L416.26,267.58L417.45,267.32L418.64,267.08L419.83,266.85L421.02,266.62L422.22,266.41L423.41,266.22L424.60,266.03L425.79,265.85L426.98,265.68L428.18,265.52L429.37,265.37" stroke="#c4c4c4" stroke-width="0.9" fill="none" />
<rect x="284.8" y="249.6" width="72.8" height="36.8" rx="5" ry="5" fill="#fff" fill-opacity="0.85" stroke="#d0d0d0" stroke-width="0.8"/>
<text x="286.80" y="257.80" font-size="7.3" fill="#333" font-weight="bold" >1 h</text>
<text x="305.60" y="257.80" font-size="7.3" fill="#333" font-weight="bold" >7 h</text>
<line x1="286.60" y1="259.30" x2="297.20" y2="259.30" stroke="#333" stroke-width="0.6" />
<line x1="305.40" y1="259.30" x2="316.00" y2="259.30" stroke="#333" stroke-width="0.6" />
<line x1="287.20" y1="262.70" x2="299.60" y2="262.70" stroke="#c4c4c4" stroke-width="1.1" />
<circle cx="293.40" cy="262.70" r="1.5" fill="#c4c4c4" />
<line x1="305.20" y1="262.70" x2="317.60" y2="262.70" stroke="#9b9b9b" stroke-width="1.1" />
<circle cx="311.40" cy="262.70" r="1.5" fill="#9b9b9b" />
<text x="321.40" y="265.30" font-size="7.3" fill="#333" >DMSO</text>
<line x1="287.20" y1="271.50" x2="299.60" y2="271.50" stroke="#3d8ad6" stroke-width="1.1" />
<circle cx="293.40" cy="271.50" r="1.5" fill="#3d8ad6" />
<line x1="305.20" y1="271.50" x2="317.60" y2="271.50" stroke="#1f3794" stroke-width="1.1" />
<circle cx="311.40" cy="271.50" r="1.5" fill="#1f3794" />
<text x="321.40" y="274.10" font-size="7.3" fill="#333" >GSK-LSD1</text>
<line x1="287.20" y1="281.00" x2="299.60" y2="281.00" stroke="#ee3124" stroke-width="1.1" />
<circle cx="293.40" cy="281.00" r="1.5" fill="#ee3124" />
<line x1="305.20" y1="281.00" x2="317.60" y2="281.00" stroke="#9e1b20" stroke-width="1.1" />
<circle cx="311.40" cy="281.00" r="1.5" fill="#9e1b20" />
<text x="321.40" y="283.60" font-size="7.3" fill="#333" >AW4</text>
<text x="369.4" y="259.4" font-size="7" font-weight="bold" fill="#a9a9a9"><tspan font-style="italic">K</tspan><tspan font-size="4.6" dy="1.5">d</tspan><tspan dy="-1.5"> = 12.2 ± 1.9 nM</tspan></text>
<text x="478.70" y="238.10" font-size="9.92" fill="#231f20" stroke="#231f20" >ΔTTAS LSD1-CoREST GFI1B(2-10) binding</text>
<line x1="498.40" y1="250.20" x2="498.40" y2="354.30" stroke="#2b2b2b" stroke-width="1.1" />
<line x1="495.80" y1="354.30" x2="498.40" y2="354.30" stroke="#2b2b2b" stroke-width="0.9" />
<text x="494.00" y="357.10" font-size="7.9" fill="#333" text-anchor="end" >0</text>
<line x1="495.80" y1="339.44" x2="498.40" y2="339.44" stroke="#2b2b2b" stroke-width="0.9" />
<text x="494.00" y="342.24" font-size="7.9" fill="#333" text-anchor="end" >25</text>
<line x1="495.80" y1="324.59" x2="498.40" y2="324.59" stroke="#2b2b2b" stroke-width="0.9" />
<text x="494.00" y="327.39" font-size="7.9" fill="#333" text-anchor="end" >50</text>
<line x1="495.80" y1="309.73" x2="498.40" y2="309.73" stroke="#2b2b2b" stroke-width="0.9" />
<text x="494.00" y="312.53" font-size="7.9" fill="#333" text-anchor="end" >75</text>
<line x1="495.80" y1="294.87" x2="498.40" y2="294.87" stroke="#2b2b2b" stroke-width="0.9" />
<text x="494.00" y="297.67" font-size="7.9" fill="#333" text-anchor="end" >100</text>
<line x1="495.80" y1="280.01" x2="498.40" y2="280.01" stroke="#2b2b2b" stroke-width="0.9" />
<text x="494.00" y="282.81" font-size="7.9" fill="#333" text-anchor="end" >125</text>
<line x1="495.80" y1="265.15" x2="498.40" y2="265.15" stroke="#2b2b2b" stroke-width="0.9" />
<text x="494.00" y="267.95" font-size="7.9" fill="#333" text-anchor="end" >150</text>
<line x1="495.80" y1="250.30" x2="498.40" y2="250.30" stroke="#2b2b2b" stroke-width="0.9" />
<text x="494.00" y="253.10" font-size="7.9" fill="#333" text-anchor="end" >175</text>
<line x1="497.90" y1="354.30" x2="655.40" y2="354.30" stroke="#2b2b2b" stroke-width="1.1" />
<line x1="498.40" y1="354.30" x2="498.40" y2="357.60" stroke="#2b2b2b" stroke-width="0.8" />
<line x1="510.22" y1="354.30" x2="510.22" y2="356.20" stroke="#2b2b2b" stroke-width="0.8" />
<line x1="517.13" y1="354.30" x2="517.13" y2="356.20" stroke="#2b2b2b" stroke-width="0.8" />
<line x1="522.03" y1="354.30" x2="522.03" y2="356.20" stroke="#2b2b2b" stroke-width="0.8" />
<line x1="525.83" y1="354.30" x2="525.83" y2="356.20" stroke="#2b2b2b" stroke-width="0.8" />
<line x1="528.94" y1="354.30" x2="528.94" y2="356.20" stroke="#2b2b2b" stroke-width="0.8" />
<line x1="531.57" y1="354.30" x2="531.57" y2="356.20" stroke="#2b2b2b" stroke-width="0.8" />
<line x1="533.85" y1="354.30" x2="533.85" y2="356.20" stroke="#2b2b2b" stroke-width="0.8" />
<line x1="535.85" y1="354.30" x2="535.85" y2="356.20" stroke="#2b2b2b" stroke-width="0.8" />
<line x1="537.65" y1="354.30" x2="537.65" y2="357.60" stroke="#2b2b2b" stroke-width="0.8" />
<line x1="549.47" y1="354.30" x2="549.47" y2="356.20" stroke="#2b2b2b" stroke-width="0.8" />
<line x1="556.38" y1="354.30" x2="556.38" y2="356.20" stroke="#2b2b2b" stroke-width="0.8" />
<line x1="561.28" y1="354.30" x2="561.28" y2="356.20" stroke="#2b2b2b" stroke-width="0.8" />
<line x1="565.08" y1="354.30" x2="565.08" y2="356.20" stroke="#2b2b2b" stroke-width="0.8" />
<line x1="568.19" y1="354.30" x2="568.19" y2="356.20" stroke="#2b2b2b" stroke-width="0.8" />
<line x1="570.82" y1="354.30" x2="570.82" y2="356.20" stroke="#2b2b2b" stroke-width="0.8" />
<line x1="573.10" y1="354.30" x2="573.10" y2="356.20" stroke="#2b2b2b" stroke-width="0.8" />
<line x1="575.10" y1="354.30" x2="575.10" y2="356.20" stroke="#2b2b2b" stroke-width="0.8" />
<line x1="576.90" y1="354.30" x2="576.90" y2="357.60" stroke="#2b2b2b" stroke-width="0.8" />
<line x1="588.72" y1="354.30" x2="588.72" y2="356.20" stroke="#2b2b2b" stroke-width="0.8" />
<line x1="595.63" y1="354.30" x2="595.63" y2="356.20" stroke="#2b2b2b" stroke-width="0.8" />
<line x1="600.53" y1="354.30" x2="600.53" y2="356.20" stroke="#2b2b2b" stroke-width="0.8" />
<line x1="604.33" y1="354.30" x2="604.33" y2="356.20" stroke="#2b2b2b" stroke-width="0.8" />
<line x1="607.44" y1="354.30" x2="607.44" y2="356.20" stroke="#2b2b2b" stroke-width="0.8" />
<line x1="610.07" y1="354.30" x2="610.07" y2="356.20" stroke="#2b2b2b" stroke-width="0.8" />
<line x1="612.35" y1="354.30" x2="612.35" y2="356.20" stroke="#2b2b2b" stroke-width="0.8" />
<line x1="614.35" y1="354.30" x2="614.35" y2="356.20" stroke="#2b2b2b" stroke-width="0.8" />
<line x1="616.15" y1="354.30" x2="616.15" y2="357.60" stroke="#2b2b2b" stroke-width="0.8" />
<line x1="627.97" y1="354.30" x2="627.97" y2="356.20" stroke="#2b2b2b" stroke-width="0.8" />
<line x1="634.88" y1="354.30" x2="634.88" y2="356.20" stroke="#2b2b2b" stroke-width="0.8" />
<line x1="639.78" y1="354.30" x2="639.78" y2="356.20" stroke="#2b2b2b" stroke-width="0.8" />
<line x1="643.58" y1="354.30" x2="643.58" y2="356.20" stroke="#2b2b2b" stroke-width="0.8" />
<line x1="646.69" y1="354.30" x2="646.69" y2="356.20" stroke="#2b2b2b" stroke-width="0.8" />
<line x1="649.32" y1="354.30" x2="649.32" y2="356.20" stroke="#2b2b2b" stroke-width="0.8" />
<line x1="651.60" y1="354.30" x2="651.60" y2="356.20" stroke="#2b2b2b" stroke-width="0.8" />
<line x1="653.60" y1="354.30" x2="653.60" y2="356.20" stroke="#2b2b2b" stroke-width="0.8" />
<line x1="655.40" y1="354.30" x2="655.40" y2="357.60" stroke="#2b2b2b" stroke-width="0.8" />
<text x="498.40" y="366.90" font-size="7.35" fill="#333" text-anchor="middle" >0.1</text>
<text x="537.65" y="366.90" font-size="7.35" fill="#333" text-anchor="middle" >1</text>
<text x="576.90" y="366.90" font-size="7.35" fill="#333" text-anchor="middle" >10</text>
<text x="616.15" y="366.90" font-size="7.35" fill="#333" text-anchor="middle" >100</text>
<text x="655.40" y="366.90" font-size="7.35" fill="#333" text-anchor="middle" >1000</text>
<text x="577.00" y="379.20" font-size="8.4" fill="#231f20" stroke="#231f20" text-anchor="middle" >[ΔTTAS LSD1-CoREST], nM</text>
<text transform="translate(475.40,302.20) rotate(-90)" font-size="8.25" fill="#231f20" stroke="#231f20" text-anchor="middle">Fluorescence Polarization, mP</text>
<circle cx="508.42" cy="330.66" r="1.7" fill="#9e1b20" />
<circle cx="508.42" cy="332.00" r="1.7" fill="#9e1b20" />
<circle cx="520.23" cy="333.70" r="1.7" fill="#9e1b20" />
<circle cx="520.23" cy="328.81" r="1.7" fill="#9e1b20" />
<circle cx="532.05" cy="333.99" r="1.7" fill="#9e1b20" />
<circle cx="532.05" cy="330.18" r="1.7" fill="#9e1b20" />
<circle cx="532.05" cy="331.25" r="1.7" fill="#9e1b20" />
<circle cx="543.87" cy="328.13" r="1.7" fill="#9e1b20" />
<circle cx="543.87" cy="327.93" r="1.7" fill="#9e1b20" />
<circle cx="543.87" cy="331.37" r="1.7" fill="#9e1b20" />
<circle cx="555.68" cy="328.26" r="1.7" fill="#9e1b20" />
<circle cx="555.68" cy="327.16" r="1.7" fill="#9e1b20" />
<circle cx="567.50" cy="327.33" r="1.7" fill="#9e1b20" />
<circle cx="567.50" cy="326.22" r="1.7" fill="#9e1b20" />
<circle cx="579.31" cy="327.54" r="1.7" fill="#9e1b20" />
<circle cx="579.31" cy="324.75" r="1.7" fill="#9e1b20" />
<circle cx="591.13" cy="321.12" r="1.7" fill="#9e1b20" />
<circle cx="591.13" cy="318.36" r="1.7" fill="#9e1b20" />
<circle cx="591.13" cy="323.10" r="1.7" fill="#9e1b20" />
<circle cx="602.94" cy="310.87" r="1.7" fill="#9e1b20" />
<circle cx="602.94" cy="312.70" r="1.7" fill="#9e1b20" />
<circle cx="602.94" cy="312.86" r="1.7" fill="#9e1b20" />
<circle cx="614.76" cy="304.10" r="1.7" fill="#9e1b20" />
<circle cx="614.76" cy="302.96" r="1.7" fill="#9e1b20" />
<circle cx="626.57" cy="293.23" r="1.7" fill="#9e1b20" />
<circle cx="626.57" cy="293.02" r="1.7" fill="#9e1b20" />
<circle cx="626.57" cy="295.57" r="1.7" fill="#9e1b20" />
<circle cx="638.39" cy="290.89" r="1.7" fill="#9e1b20" />
<circle cx="638.39" cy="285.57" r="1.7" fill="#9e1b20" />
<circle cx="650.20" cy="281.15" r="1.7" fill="#9e1b20" />
<circle cx="650.20" cy="284.45" r="1.7" fill="#9e1b20" />
<circle cx="508.42" cy="332.07" r="1.7" fill="#1f3794" />
<circle cx="508.42" cy="335.98" r="1.7" fill="#1f3794" />
<circle cx="508.42" cy="331.13" r="1.7" fill="#1f3794" />
<circle cx="520.23" cy="336.05" r="1.7" fill="#1f3794" />
<circle cx="520.23" cy="333.01" r="1.7" fill="#1f3794" />
<circle cx="532.05" cy="332.26" r="1.7" fill="#1f3794" />
<circle cx="532.05" cy="335.37" r="1.7" fill="#1f3794" />
<circle cx="543.87" cy="334.42" r="1.7" fill="#1f3794" />
<circle cx="543.87" cy="331.90" r="1.7" fill="#1f3794" />
<circle cx="555.68" cy="336.85" r="1.7" fill="#1f3794" />
<circle cx="555.68" cy="336.02" r="1.7" fill="#1f3794" />
<circle cx="567.50" cy="332.58" r="1.7" fill="#1f3794" />
<circle cx="567.50" cy="334.34" r="1.7" fill="#1f3794" />
<circle cx="567.50" cy="335.17" r="1.7" fill="#1f3794" />
<circle cx="579.31" cy="332.80" r="1.7" fill="#1f3794" />
<circle cx="579.31" cy="335.38" r="1.7" fill="#1f3794" />
<circle cx="591.13" cy="332.67" r="1.7" fill="#1f3794" />
<circle cx="591.13" cy="331.01" r="1.7" fill="#1f3794" />
<circle cx="602.94" cy="333.16" r="1.7" fill="#1f3794" />
<circle cx="602.94" cy="334.20" r="1.7" fill="#1f3794" />
<circle cx="614.76" cy="330.28" r="1.7" fill="#1f3794" />
<circle cx="614.76" cy="333.90" r="1.7" fill="#1f3794" />
<circle cx="626.57" cy="332.88" r="1.7" fill="#1f3794" />
<circle cx="626.57" cy="333.27" r="1.7" fill="#1f3794" />
<circle cx="638.39" cy="328.26" r="1.7" fill="#1f3794" />
<circle cx="638.39" cy="327.23" r="1.7" fill="#1f3794" />
<circle cx="650.20" cy="329.50" r="1.7" fill="#1f3794" />
<circle cx="650.20" cy="326.67" r="1.7" fill="#1f3794" />
<circle cx="650.20" cy="325.58" r="1.7" fill="#1f3794" />
<circle cx="508.42" cy="331.03" r="1.7" fill="#ee3124" />
<circle cx="508.42" cy="330.68" r="1.7" fill="#ee3124" />
<circle cx="508.42" cy="334.61" r="1.7" fill="#ee3124" />
<circle cx="520.23" cy="331.66" r="1.7" fill="#ee3124" />
<circle cx="520.23" cy="334.48" r="1.7" fill="#ee3124" />
<circle cx="520.23" cy="330.16" r="1.7" fill="#ee3124" />
<circle cx="532.05" cy="334.52" r="1.7" fill="#ee3124" />
<circle cx="532.05" cy="332.00" r="1.7" fill="#ee3124" />
<circle cx="532.05" cy="334.23" r="1.7" fill="#ee3124" />
<circle cx="543.87" cy="331.94" r="1.7" fill="#ee3124" />
<circle cx="543.87" cy="331.21" r="1.7" fill="#ee3124" />
<circle cx="555.68" cy="332.22" r="1.7" fill="#ee3124" />
<circle cx="555.68" cy="330.88" r="1.7" fill="#ee3124" />
<circle cx="567.50" cy="330.67" r="1.7" fill="#ee3124" />
<circle cx="567.50" cy="333.73" r="1.7" fill="#ee3124" />
<circle cx="567.50" cy="332.88" r="1.7" fill="#ee3124" />
<circle cx="579.31" cy="331.91" r="1.7" fill="#ee3124" />
<circle cx="579.31" cy="330.20" r="1.7" fill="#ee3124" />
<circle cx="579.31" cy="330.44" r="1.7" fill="#ee3124" />
<circle cx="591.13" cy="331.05" r="1.7" fill="#ee3124" />
<circle cx="591.13" cy="332.21" r="1.7" fill="#ee3124" />
<circle cx="602.94" cy="331.72" r="1.7" fill="#ee3124" />
<circle cx="602.94" cy="331.85" r="1.7" fill="#ee3124" />
<circle cx="602.94" cy="330.43" r="1.7" fill="#ee3124" />
<circle cx="614.76" cy="327.81" r="1.7" fill="#ee3124" />
<circle cx="614.76" cy="329.40" r="1.7" fill="#ee3124" />
<circle cx="626.57" cy="321.46" r="1.7" fill="#ee3124" />
<circle cx="626.57" cy="320.32" r="1.7" fill="#ee3124" />
<circle cx="638.39" cy="319.46" r="1.7" fill="#ee3124" />
<circle cx="638.39" cy="317.06" r="1.7" fill="#ee3124" />
<circle cx="650.20" cy="312.37" r="1.7" fill="#ee3124" />
<circle cx="650.20" cy="314.34" r="1.7" fill="#ee3124" />
<circle cx="650.20" cy="312.64" r="1.7" fill="#ee3124" />
<circle cx="508.42" cy="331.63" r="1.7" fill="#3d8ad6" />
<circle cx="508.42" cy="335.48" r="1.7" fill="#3d8ad6" />
<circle cx="508.42" cy="333.06" r="1.7" fill="#3d8ad6" />
<circle cx="520.23" cy="334.07" r="1.7" fill="#3d8ad6" />
<circle cx="520.23" cy="334.17" r="1.7" fill="#3d8ad6" />
<circle cx="520.23" cy="332.42" r="1.7" fill="#3d8ad6" />
<circle cx="532.05" cy="333.76" r="1.7" fill="#3d8ad6" />
<circle cx="532.05" cy="334.82" r="1.7" fill="#3d8ad6" />
<circle cx="532.05" cy="333.71" r="1.7" fill="#3d8ad6" />
<circle cx="543.87" cy="335.36" r="1.7" fill="#3d8ad6" />
<circle cx="543.87" cy="331.20" r="1.7" fill="#3d8ad6" />
<circle cx="555.68" cy="333.85" r="1.7" fill="#3d8ad6" />
<circle cx="555.68" cy="333.42" r="1.7" fill="#3d8ad6" />
<circle cx="555.68" cy="332.36" r="1.7" fill="#3d8ad6" />
<circle cx="567.50" cy="332.16" r="1.7" fill="#3d8ad6" />
<circle cx="567.50" cy="334.84" r="1.7" fill="#3d8ad6" />
<circle cx="567.50" cy="335.65" r="1.7" fill="#3d8ad6" />
<circle cx="579.31" cy="332.62" r="1.7" fill="#3d8ad6" />
<circle cx="579.31" cy="332.80" r="1.7" fill="#3d8ad6" />
<circle cx="579.31" cy="331.13" r="1.7" fill="#3d8ad6" />
<circle cx="591.13" cy="332.90" r="1.7" fill="#3d8ad6" />
<circle cx="591.13" cy="331.50" r="1.7" fill="#3d8ad6" />
<circle cx="591.13" cy="330.98" r="1.7" fill="#3d8ad6" />
<circle cx="602.94" cy="332.08" r="1.7" fill="#3d8ad6" />
<circle cx="602.94" cy="333.73" r="1.7" fill="#3d8ad6" />
<circle cx="602.94" cy="334.81" r="1.7" fill="#3d8ad6" />
<circle cx="614.76" cy="333.59" r="1.7" fill="#3d8ad6" />
<circle cx="614.76" cy="332.14" r="1.7" fill="#3d8ad6" />
<circle cx="614.76" cy="330.68" r="1.7" fill="#3d8ad6" />
<circle cx="626.57" cy="332.02" r="1.7" fill="#3d8ad6" />
<circle cx="626.57" cy="332.04" r="1.7" fill="#3d8ad6" />
<circle cx="638.39" cy="327.03" r="1.7" fill="#3d8ad6" />
<circle cx="638.39" cy="327.76" r="1.7" fill="#3d8ad6" />
<circle cx="638.39" cy="327.46" r="1.7" fill="#3d8ad6" />
<circle cx="650.20" cy="326.22" r="1.7" fill="#3d8ad6" />
<circle cx="650.20" cy="326.50" r="1.7" fill="#3d8ad6" />
<circle cx="508.42" cy="333.63" r="1.7" fill="#9b9b9b" />
<circle cx="508.42" cy="330.99" r="1.7" fill="#9b9b9b" />
<circle cx="520.23" cy="333.64" r="1.7" fill="#9b9b9b" />
<circle cx="520.23" cy="334.09" r="1.7" fill="#9b9b9b" />
<circle cx="520.23" cy="330.31" r="1.7" fill="#9b9b9b" />
<circle cx="532.05" cy="328.58" r="1.7" fill="#9b9b9b" />
<circle cx="532.05" cy="333.67" r="1.7" fill="#9b9b9b" />
<circle cx="532.05" cy="332.31" r="1.7" fill="#9b9b9b" />
<circle cx="543.87" cy="330.69" r="1.7" fill="#9b9b9b" />
<circle cx="543.87" cy="328.68" r="1.7" fill="#9b9b9b" />
<circle cx="555.68" cy="325.77" r="1.7" fill="#9b9b9b" />
<circle cx="555.68" cy="330.47" r="1.7" fill="#9b9b9b" />
<circle cx="555.68" cy="324.53" r="1.7" fill="#9b9b9b" />
<circle cx="567.50" cy="325.06" r="1.7" fill="#9b9b9b" />
<circle cx="567.50" cy="325.92" r="1.7" fill="#9b9b9b" />
<circle cx="567.50" cy="321.21" r="1.7" fill="#9b9b9b" />
<circle cx="579.31" cy="316.84" r="1.7" fill="#9b9b9b" />
<circle cx="579.31" cy="317.45" r="1.7" fill="#9b9b9b" />
<circle cx="591.13" cy="312.86" r="1.7" fill="#9b9b9b" />
<circle cx="591.13" cy="311.37" r="1.7" fill="#9b9b9b" />
<circle cx="591.13" cy="307.76" r="1.7" fill="#9b9b9b" />
<circle cx="602.94" cy="302.83" r="1.7" fill="#9b9b9b" />
<circle cx="602.94" cy="302.89" r="1.7" fill="#9b9b9b" />
<circle cx="614.76" cy="291.97" r="1.7" fill="#9b9b9b" />
<circle cx="614.76" cy="292.61" r="1.7" fill="#9b9b9b" />
<circle cx="626.57" cy="283.42" r="1.7" fill="#9b9b9b" />
<circle cx="626.57" cy="284.62" r="1.7" fill="#9b9b9b" />
<circle cx="638.39" cy="276.15" r="1.7" fill="#9b9b9b" />
<circle cx="638.39" cy="276.92" r="1.7" fill="#9b9b9b" />
<circle cx="638.39" cy="275.13" r="1.7" fill="#9b9b9b" />
<circle cx="650.20" cy="273.19" r="1.7" fill="#9b9b9b" />
<circle cx="650.20" cy="272.72" r="1.7" fill="#9b9b9b" />
<circle cx="508.42" cy="331.33" r="1.7" fill="#c4c4c4" />
<circle cx="508.42" cy="331.33" r="1.7" fill="#c4c4c4" />
<circle cx="520.23" cy="330.34" r="1.7" fill="#c4c4c4" />
<circle cx="520.23" cy="331.90" r="1.7" fill="#c4c4c4" />
<circle cx="520.23" cy="328.48" r="1.7" fill="#c4c4c4" />
<circle cx="532.05" cy="329.11" r="1.7" fill="#c4c4c4" />
<circle cx="532.05" cy="330.71" r="1.7" fill="#c4c4c4" />
<circle cx="543.87" cy="330.25" r="1.7" fill="#c4c4c4" />
<circle cx="543.87" cy="324.79" r="1.7" fill="#c4c4c4" />
<circle cx="555.68" cy="327.05" r="1.7" fill="#c4c4c4" />
<circle cx="555.68" cy="322.74" r="1.7" fill="#c4c4c4" />
<circle cx="555.68" cy="326.08" r="1.7" fill="#c4c4c4" />
<circle cx="567.50" cy="318.91" r="1.7" fill="#c4c4c4" />
<circle cx="567.50" cy="320.44" r="1.7" fill="#c4c4c4" />
<circle cx="579.31" cy="313.07" r="1.7" fill="#c4c4c4" />
<circle cx="579.31" cy="316.53" r="1.7" fill="#c4c4c4" />
<circle cx="579.31" cy="314.78" r="1.7" fill="#c4c4c4" />
<circle cx="591.13" cy="304.51" r="1.7" fill="#c4c4c4" />
<circle cx="591.13" cy="304.78" r="1.7" fill="#c4c4c4" />
<circle cx="591.13" cy="303.06" r="1.7" fill="#c4c4c4" />
<circle cx="602.94" cy="298.61" r="1.7" fill="#c4c4c4" />
<circle cx="602.94" cy="294.67" r="1.7" fill="#c4c4c4" />
<circle cx="614.76" cy="285.89" r="1.7" fill="#c4c4c4" />
<circle cx="614.76" cy="290.58" r="1.7" fill="#c4c4c4" />
<circle cx="626.57" cy="279.99" r="1.7" fill="#c4c4c4" />
<circle cx="626.57" cy="281.23" r="1.7" fill="#c4c4c4" />
<circle cx="638.39" cy="276.86" r="1.7" fill="#c4c4c4" />
<circle cx="638.39" cy="273.81" r="1.7" fill="#c4c4c4" />
<circle cx="638.39" cy="274.97" r="1.7" fill="#c4c4c4" />
<circle cx="650.20" cy="273.58" r="1.7" fill="#c4c4c4" />
<circle cx="650.20" cy="272.85" r="1.7" fill="#c4c4c4" />
<path d="M508.42,331.60L509.61,331.60L510.80,331.59L512.00,331.58L513.19,331.57L514.38,331.56L515.57,331.54L516.76,331.53L517.96,331.52L519.15,331.50L520.34,331.49L521.53,331.47L522.72,331.46L523.92,331.44L525.11,331.42L526.30,331.40L527.49,331.37L528.68,331.35L529.88,331.32L531.07,331.29L532.26,331.26L533.45,331.23L534.64,331.19L535.84,331.16L537.03,331.12L538.22,331.07L539.41,331.03L540.60,330.98L541.80,330.93L542.99,330.87L544.18,330.81L545.37,330.74L546.56,330.68L547.76,330.60L548.95,330.52L550.14,330.44L551.33,330.35L552.52,330.25L553.72,330.15L554.91,330.04L556.10,329.92L557.29,329.80L558.48,329.66L559.68,329.52L560.87,329.37L562.06,329.21L563.25,329.03L564.44,328.85L565.64,328.65L566.83,328.44L568.02,328.22L569.21,327.99L570.40,327.74L571.60,327.47L572.79,327.19L573.98,326.89L575.17,326.58L576.36,326.24L577.56,325.89L578.75,325.52L579.94,325.12L581.13,324.71L582.32,324.27L583.52,323.81L584.71,323.33L585.90,322.82L587.09,322.29L588.28,321.74L589.48,321.16L590.67,320.55L591.86,319.92L593.05,319.26L594.24,318.58L595.44,317.88L596.63,317.15L597.82,316.40L599.01,315.62L600.20,314.82L601.40,314.01L602.59,313.17L603.78,312.31L604.97,311.44L606.16,310.55L607.36,309.65L608.55,308.74L609.74,307.82L610.93,306.89L612.12,305.96L613.32,305.02L614.51,304.09L615.70,303.16L616.89,302.23L618.08,301.31L619.28,300.39L620.47,299.49L621.66,298.60L622.85,297.73L624.04,296.87L625.24,296.03L626.43,295.21L627.62,294.41L628.81,293.63L630.00,292.88L631.20,292.14L632.39,291.44L633.58,290.75L634.77,290.10L635.96,289.46L637.16,288.85L638.35,288.27L639.54,287.71L640.73,287.18L641.92,286.67L643.12,286.19L644.31,285.72L645.50,285.28L646.69,284.87L647.88,284.47L649.08,284.10L650.27,283.74" stroke="#9e1b20" stroke-width="0.9" fill="none" />
<path d="M508.42,334.09L509.61,334.09L510.80,334.09L512.00,334.09L513.19,334.09L514.38,334.09L515.57,334.09L516.76,334.09L517.96,334.09L519.15,334.09L520.34,334.09L521.53,334.09L522.72,334.09L523.92,334.09L525.11,334.09L526.30,334.09L527.49,334.09L528.68,334.08L529.88,334.08L531.07,334.08L532.26,334.08L533.45,334.08L534.64,334.08L535.84,334.08L537.03,334.08L538.22,334.08L539.41,334.08L540.60,334.08L541.80,334.07L542.99,334.07L544.18,334.07L545.37,334.07L546.56,334.07L547.76,334.07L548.95,334.06L550.14,334.06L551.33,334.06L552.52,334.06L553.72,334.05L554.91,334.05L556.10,334.05L557.29,334.04L558.48,334.04L559.68,334.04L560.87,334.03L562.06,334.03L563.25,334.02L564.44,334.02L565.64,334.01L566.83,334.01L568.02,334.00L569.21,334.00L570.40,333.99L571.60,333.98L572.79,333.97L573.98,333.96L575.17,333.95L576.36,333.94L577.56,333.93L578.75,333.92L579.94,333.91L581.13,333.90L582.32,333.88L583.52,333.87L584.71,333.85L585.90,333.83L587.09,333.82L588.28,333.80L589.48,333.78L590.67,333.75L591.86,333.73L593.05,333.70L594.24,333.68L595.44,333.65L596.63,333.62L597.82,333.58L599.01,333.55L600.20,333.51L601.40,333.47L602.59,333.43L603.78,333.38L604.97,333.33L606.16,333.28L607.36,333.23L608.55,333.17L609.74,333.11L610.93,333.04L612.12,332.97L613.32,332.90L614.51,332.82L615.70,332.74L616.89,332.65L618.08,332.56L619.28,332.46L620.47,332.36L621.66,332.26L622.85,332.14L624.04,332.03L625.24,331.90L626.43,331.77L627.62,331.64L628.81,331.50L630.00,331.35L631.20,331.20L632.39,331.04L633.58,330.88L634.77,330.71L635.96,330.53L637.16,330.35L638.35,330.16L639.54,329.97L640.73,329.78L641.92,329.58L643.12,329.37L644.31,329.17L645.50,328.96L646.69,328.75L647.88,328.53L649.08,328.31L650.27,328.10" stroke="#1f3794" stroke-width="0.9" fill="none" />
<path d="M508.42,332.31L509.61,332.31L510.80,332.31L512.00,332.31L513.19,332.31L514.38,332.31L515.57,332.31L516.76,332.31L517.96,332.31L519.15,332.31L520.34,332.31L521.53,332.31L522.72,332.31L523.92,332.31L525.11,332.31L526.30,332.31L527.49,332.31L528.68,332.31L529.88,332.31L531.07,332.31L532.26,332.31L533.45,332.31L534.64,332.31L535.84,332.30L537.03,332.30L538.22,332.30L539.41,332.30L540.60,332.30L541.80,332.30L542.99,332.30L544.18,332.30L545.37,332.30L546.56,332.29L547.76,332.29L548.95,332.29L550.14,332.29L551.33,332.29L552.52,332.28L553.72,332.28L554.91,332.28L556.10,332.27L557.29,332.27L558.48,332.27L559.68,332.26L560.87,332.25L562.06,332.25L563.25,332.24L564.44,332.23L565.64,332.22L566.83,332.22L568.02,332.20L569.21,332.19L570.40,332.18L571.60,332.17L572.79,332.15L573.98,332.13L575.17,332.11L576.36,332.09L577.56,332.07L578.75,332.04L579.94,332.01L581.13,331.98L582.32,331.94L583.52,331.90L584.71,331.86L585.90,331.81L587.09,331.76L588.28,331.70L589.48,331.63L590.67,331.56L591.86,331.48L593.05,331.39L594.24,331.29L595.44,331.19L596.63,331.07L597.82,330.94L599.01,330.80L600.20,330.65L601.40,330.48L602.59,330.30L603.78,330.10L604.97,329.88L606.16,329.65L607.36,329.39L608.55,329.12L609.74,328.83L610.93,328.51L612.12,328.18L613.32,327.82L614.51,327.44L615.70,327.04L616.89,326.61L618.08,326.17L619.28,325.70L620.47,325.22L621.66,324.72L622.85,324.21L624.04,323.69L625.24,323.15L626.43,322.61L627.62,322.07L628.81,321.52L630.00,320.98L631.20,320.44L632.39,319.91L633.58,319.39L634.77,318.89L635.96,318.39L637.16,317.92L638.35,317.46L639.54,317.03L640.73,316.61L641.92,316.22L643.12,315.85L644.31,315.50L645.50,315.17L646.69,314.87L647.88,314.58L649.08,314.32L650.27,314.07" stroke="#ee3124" stroke-width="0.9" fill="none" />
<path d="M508.42,333.50L509.61,333.50L510.80,333.50L512.00,333.50L513.19,333.50L514.38,333.50L515.57,333.50L516.76,333.50L517.96,333.50L519.15,333.50L520.34,333.50L521.53,333.50L522.72,333.50L523.92,333.50L525.11,333.50L526.30,333.50L527.49,333.50L528.68,333.50L529.88,333.50L531.07,333.50L532.26,333.49L533.45,333.49L534.64,333.49L535.84,333.49L537.03,333.49L538.22,333.49L539.41,333.49L540.60,333.49L541.80,333.49L542.99,333.49L544.18,333.49L545.37,333.49L546.56,333.49L547.76,333.49L548.95,333.48L550.14,333.48L551.33,333.48L552.52,333.48L553.72,333.48L554.91,333.48L556.10,333.47L557.29,333.47L558.48,333.47L559.68,333.47L560.87,333.46L562.06,333.46L563.25,333.46L564.44,333.45L565.64,333.45L566.83,333.45L568.02,333.44L569.21,333.44L570.40,333.43L571.60,333.42L572.79,333.42L573.98,333.41L575.17,333.40L576.36,333.40L577.56,333.39L578.75,333.38L579.94,333.37L581.13,333.35L582.32,333.34L583.52,333.33L584.71,333.31L585.90,333.30L587.09,333.28L588.28,333.26L589.48,333.24L590.67,333.22L591.86,333.19L593.05,333.17L594.24,333.14L595.44,333.11L596.63,333.07L597.82,333.04L599.01,333.00L600.20,332.95L601.40,332.91L602.59,332.86L603.78,332.81L604.97,332.75L606.16,332.68L607.36,332.62L608.55,332.54L609.74,332.46L610.93,332.38L612.12,332.29L613.32,332.19L614.51,332.08L615.70,331.97L616.89,331.85L618.08,331.72L619.28,331.58L620.47,331.43L621.66,331.27L622.85,331.10L624.04,330.93L625.24,330.74L626.43,330.53L627.62,330.32L628.81,330.09L630.00,329.86L631.20,329.61L632.39,329.35L633.58,329.07L634.77,328.79L635.96,328.49L637.16,328.18L638.35,327.87L639.54,327.54L640.73,327.20L641.92,326.85L643.12,326.50L644.31,326.14L645.50,325.78L646.69,325.41L647.88,325.04L649.08,324.66L650.27,324.29" stroke="#3d8ad6" stroke-width="0.9" fill="none" />
<path d="M508.42,331.80L509.61,331.77L510.80,331.73L512.00,331.70L513.19,331.66L514.38,331.62L515.57,331.58L516.76,331.53L517.96,331.49L519.15,331.44L520.34,331.38L521.53,331.33L522.72,331.27L523.92,331.21L525.11,331.14L526.30,331.07L527.49,331.00L528.68,330.92L529.88,330.83L531.07,330.74L532.26,330.65L533.45,330.55L534.64,330.45L535.84,330.34L537.03,330.22L538.22,330.10L539.41,329.96L540.60,329.83L541.80,329.68L542.99,329.53L544.18,329.36L545.37,329.19L546.56,329.01L547.76,328.82L548.95,328.61L550.14,328.40L551.33,328.18L552.52,327.94L553.72,327.69L554.91,327.43L556.10,327.15L557.29,326.86L558.48,326.56L559.68,326.24L560.87,325.90L562.06,325.55L563.25,325.18L564.44,324.79L565.64,324.38L566.83,323.96L568.02,323.51L569.21,323.05L570.40,322.56L571.60,322.06L572.79,321.53L573.98,320.98L575.17,320.41L576.36,319.82L577.56,319.20L578.75,318.56L579.94,317.90L581.13,317.22L582.32,316.51L583.52,315.78L584.71,315.03L585.90,314.25L587.09,313.46L588.28,312.64L589.48,311.81L590.67,310.95L591.86,310.07L593.05,309.18L594.24,308.27L595.44,307.35L596.63,306.41L597.82,305.46L599.01,304.49L600.20,303.52L601.40,302.54L602.59,301.55L603.78,300.56L604.97,299.56L606.16,298.56L607.36,297.56L608.55,296.57L609.74,295.58L610.93,294.59L612.12,293.61L613.32,292.64L614.51,291.68L615.70,290.74L616.89,289.80L618.08,288.88L619.28,287.98L620.47,287.09L621.66,286.22L622.85,285.37L624.04,284.54L625.24,283.73L626.43,282.94L627.62,282.18L628.81,281.43L630.00,280.71L631.20,280.01L632.39,279.34L633.58,278.68L634.77,278.05L635.96,277.44L637.16,276.86L638.35,276.30L639.54,275.75L640.73,275.23L641.92,274.74L643.12,274.26L644.31,273.80L645.50,273.36L646.69,272.94L647.88,272.54L649.08,272.16L650.27,271.80" stroke="#9b9b9b" stroke-width="0.9" fill="none" />
<path d="M508.42,330.85L509.61,330.80L510.80,330.74L512.00,330.69L513.19,330.63L514.38,330.57L515.57,330.50L516.76,330.44L517.96,330.36L519.15,330.29L520.34,330.21L521.53,330.12L522.72,330.03L523.92,329.94L525.11,329.84L526.30,329.73L527.49,329.62L528.68,329.51L529.88,329.39L531.07,329.26L532.26,329.12L533.45,328.98L534.64,328.83L535.84,328.67L537.03,328.50L538.22,328.32L539.41,328.14L540.60,327.95L541.80,327.74L542.99,327.53L544.18,327.30L545.37,327.07L546.56,326.82L547.76,326.56L548.95,326.29L550.14,326.00L551.33,325.70L552.52,325.39L553.72,325.06L554.91,324.72L556.10,324.36L557.29,323.98L558.48,323.59L559.68,323.19L560.87,322.76L562.06,322.32L563.25,321.86L564.44,321.38L565.64,320.88L566.83,320.36L568.02,319.83L569.21,319.27L570.40,318.70L571.60,318.10L572.79,317.48L573.98,316.85L575.17,316.19L576.36,315.52L577.56,314.82L578.75,314.11L579.94,313.37L581.13,312.62L582.32,311.85L583.52,311.06L584.71,310.26L585.90,309.43L587.09,308.60L588.28,307.75L589.48,306.88L590.67,306.00L591.86,305.12L593.05,304.22L594.24,303.31L595.44,302.40L596.63,301.48L597.82,300.55L599.01,299.62L600.20,298.69L601.40,297.76L602.59,296.83L603.78,295.90L604.97,294.98L606.16,294.06L607.36,293.15L608.55,292.25L609.74,291.35L610.93,290.47L612.12,289.60L613.32,288.74L614.51,287.90L615.70,287.07L616.89,286.25L618.08,285.45L619.28,284.67L620.47,283.91L621.66,283.17L622.85,282.44L624.04,281.73L625.24,281.05L626.43,280.38L627.62,279.73L628.81,279.11L630.00,278.50L631.20,277.91L632.39,277.35L633.58,276.80L634.77,276.27L635.96,275.76L637.16,275.27L638.35,274.80L639.54,274.35L640.73,273.92L641.92,273.50L643.12,273.10L644.31,272.72L645.50,272.35L646.69,272.00L647.88,271.66L649.08,271.34L650.27,271.03" stroke="#c4c4c4" stroke-width="0.9" fill="none" />
<text x="544.0" y="288.9" font-size="7" font-weight="bold" fill="#a9a9a9"><tspan font-style="italic">K</tspan><tspan font-size="4.6" dy="1.5">d</tspan><tspan dy="-1.5"> = 48.0 ± 8.8 nM</tspan></text>
<text x="622.9" y="307.4" font-size="7" font-weight="bold" fill="#9e1b20"><tspan font-style="italic">K</tspan><tspan font-size="4.6" dy="1.5">d</tspan><tspan dy="-1.5"> = 140.6 ± 5.2 nM</tspan></text>
<line x1="38.70" y1="416.00" x2="38.70" y2="500.00" stroke="#2b2b2b" stroke-width="1" />
<line x1="37.10" y1="500.00" x2="38.70" y2="500.00" stroke="#2b2b2b" stroke-width="0.8" />
<line x1="37.10" y1="491.60" x2="38.70" y2="491.60" stroke="#2b2b2b" stroke-width="0.8" />
<line x1="37.10" y1="483.20" x2="38.70" y2="483.20" stroke="#2b2b2b" stroke-width="0.8" />
<line x1="37.10" y1="474.80" x2="38.70" y2="474.80" stroke="#2b2b2b" stroke-width="0.8" />
<line x1="37.10" y1="466.40" x2="38.70" y2="466.40" stroke="#2b2b2b" stroke-width="0.8" />
<line x1="37.10" y1="458.00" x2="38.70" y2="458.00" stroke="#2b2b2b" stroke-width="0.8" />
<line x1="37.10" y1="449.60" x2="38.70" y2="449.60" stroke="#2b2b2b" stroke-width="0.8" />
<line x1="37.10" y1="441.20" x2="38.70" y2="441.20" stroke="#2b2b2b" stroke-width="0.8" />
<line x1="37.10" y1="432.80" x2="38.70" y2="432.80" stroke="#2b2b2b" stroke-width="0.8" />
<line x1="37.10" y1="424.40" x2="38.70" y2="424.40" stroke="#2b2b2b" stroke-width="0.8" />
<line x1="37.10" y1="416.00" x2="38.70" y2="416.00" stroke="#2b2b2b" stroke-width="0.8" />
<text x="35.30" y="418.40" font-size="6.7" fill="#333" text-anchor="end" >100</text>
<text x="35.50" y="502.40" font-size="6.7" fill="#333" text-anchor="end" >0</text>
<line x1="38.70" y1="500.00" x2="212.60" y2="500.00" stroke="#2b2b2b" stroke-width="1.1" />
<line x1="61.90" y1="500.00" x2="61.90" y2="501.80" stroke="#2b2b2b" stroke-width="0.8" />
<line x1="86.98" y1="500.00" x2="86.98" y2="501.80" stroke="#2b2b2b" stroke-width="0.8" />
<line x1="112.06" y1="500.00" x2="112.06" y2="501.80" stroke="#2b2b2b" stroke-width="0.8" />
<line x1="137.14" y1="500.00" x2="137.14" y2="501.80" stroke="#2b2b2b" stroke-width="0.8" />
<line x1="162.22" y1="500.00" x2="162.22" y2="501.80" stroke="#2b2b2b" stroke-width="0.8" />
<line x1="187.30" y1="500.00" x2="187.30" y2="501.80" stroke="#2b2b2b" stroke-width="0.8" />
<line x1="212.38" y1="500.00" x2="212.38" y2="501.80" stroke="#2b2b2b" stroke-width="0.8" />
<text x="61.90" y="509.20" font-size="7.1" fill="#333" text-anchor="middle" >1064</text>
<text x="112.06" y="509.20" font-size="7.1" fill="#333" text-anchor="middle" >1068</text>
<text x="162.22" y="509.20" font-size="7.1" fill="#333" text-anchor="middle" >1072</text>
<text x="212.38" y="509.20" font-size="7.1" fill="#333" text-anchor="middle" >1076</text>
<path d="M140.05,500.00L140.65,416.00L141.15,416.00L141.75,500.00Z" fill="#1a1a1a"/>
<path d="M152.59,500.00L153.19,451.28L153.69,451.28L154.29,500.00Z" fill="#1a1a1a"/>
<path d="M165.13,500.00L165.73,483.62L166.23,483.62L166.83,500.00Z" fill="#1a1a1a"/>
<path d="M177.67,500.00L178.27,496.22L178.77,496.22L179.37,500.00Z" fill="#1a1a1a"/>
<text transform="translate(26.50,462.70) rotate(-90)" font-size="7.75" fill="#231f20" text-anchor="middle">Relative Abundance</text>
<text x="134.00" y="517.20" font-size="7.7" fill="#333" text-anchor="middle">m/z</text>
<text x="145.8" y="420.8" font-size="7.35" fill="#333">AW4-FAD (<tspan font-weight="bold">33</tspan>)</text>
<text x="145.8" y="429.1" font-size="7.35" fill="#333"><tspan font-style="italic">m/z</tspan> 1070.2854</text>
<line x1="251.40" y1="418.70" x2="251.40" y2="500.10" stroke="#2b2b2b" stroke-width="1" />
<line x1="249.80" y1="500.10" x2="251.40" y2="500.10" stroke="#2b2b2b" stroke-width="0.8" />
<line x1="249.80" y1="491.96" x2="251.40" y2="491.96" stroke="#2b2b2b" stroke-width="0.8" />
<line x1="249.80" y1="483.82" x2="251.40" y2="483.82" stroke="#2b2b2b" stroke-width="0.8" />
<line x1="249.80" y1="475.68" x2="251.40" y2="475.68" stroke="#2b2b2b" stroke-width="0.8" />
<line x1="249.80" y1="467.54" x2="251.40" y2="467.54" stroke="#2b2b2b" stroke-width="0.8" />
<line x1="249.80" y1="459.40" x2="251.40" y2="459.40" stroke="#2b2b2b" stroke-width="0.8" />
<line x1="249.80" y1="451.26" x2="251.40" y2="451.26" stroke="#2b2b2b" stroke-width="0.8" />
<line x1="249.80" y1="443.12" x2="251.40" y2="443.12" stroke="#2b2b2b" stroke-width="0.8" />
<line x1="249.80" y1="434.98" x2="251.40" y2="434.98" stroke="#2b2b2b" stroke-width="0.8" />
<line x1="249.80" y1="426.84" x2="251.40" y2="426.84" stroke="#2b2b2b" stroke-width="0.8" />
<line x1="249.80" y1="418.70" x2="251.40" y2="418.70" stroke="#2b2b2b" stroke-width="0.8" />
<text x="248.00" y="421.10" font-size="6.7" fill="#333" text-anchor="end" >100</text>
<text x="248.20" y="502.50" font-size="6.7" fill="#333" text-anchor="end" >0</text>
<line x1="251.40" y1="500.10" x2="432.30" y2="500.10" stroke="#2b2b2b" stroke-width="1.1" />
<line x1="254.46" y1="500.10" x2="254.46" y2="501.90" stroke="#2b2b2b" stroke-width="0.8" />
<line x1="270.60" y1="500.10" x2="270.60" y2="501.90" stroke="#2b2b2b" stroke-width="0.8" />
<line x1="286.74" y1="500.10" x2="286.74" y2="501.90" stroke="#2b2b2b" stroke-width="0.8" />
<line x1="302.88" y1="500.10" x2="302.88" y2="501.90" stroke="#2b2b2b" stroke-width="0.8" />
<line x1="319.02" y1="500.10" x2="319.02" y2="501.90" stroke="#2b2b2b" stroke-width="0.8" />
<line x1="335.16" y1="500.10" x2="335.16" y2="501.90" stroke="#2b2b2b" stroke-width="0.8" />
<line x1="351.30" y1="500.10" x2="351.30" y2="501.90" stroke="#2b2b2b" stroke-width="0.8" />
<line x1="367.44" y1="500.10" x2="367.44" y2="501.90" stroke="#2b2b2b" stroke-width="0.8" />
<line x1="383.58" y1="500.10" x2="383.58" y2="501.90" stroke="#2b2b2b" stroke-width="0.8" />
<line x1="399.72" y1="500.10" x2="399.72" y2="501.90" stroke="#2b2b2b" stroke-width="0.8" />
<line x1="415.86" y1="500.10" x2="415.86" y2="501.90" stroke="#2b2b2b" stroke-width="0.8" />
<line x1="432.00" y1="500.10" x2="432.00" y2="501.90" stroke="#2b2b2b" stroke-width="0.8" />
<text x="270.60" y="509.30" font-size="7.1" fill="#333" text-anchor="middle" >810</text>
<text x="302.88" y="509.30" font-size="7.1" fill="#333" text-anchor="middle" >812</text>
<text x="335.16" y="509.30" font-size="7.1" fill="#333" text-anchor="middle" >814</text>
<text x="367.44" y="509.30" font-size="7.1" fill="#333" text-anchor="middle" >816</text>
<text x="399.72" y="509.30" font-size="7.1" fill="#333" text-anchor="middle" >818</text>
<text x="432.00" y="509.30" font-size="7.1" fill="#333" text-anchor="middle" >820</text>
<path d="M337.54,500.10L338.14,418.70L338.64,418.70L339.24,500.10Z" fill="#1a1a1a"/>
<path d="M353.68,500.10L354.28,473.24L354.78,473.24L355.38,500.10Z" fill="#1a1a1a"/>
<path d="M369.82,500.10L370.42,494.00L370.92,494.00L371.52,500.10Z" fill="#1a1a1a"/>
<path d="M385.96,500.10L386.56,498.47L387.06,498.47L387.66,500.10Z" fill="#1a1a1a"/>
<path d="M401.29,500.10L401.89,496.44L402.39,496.44L402.99,500.10Z" fill="#1a1a1a"/>
<text transform="translate(238.90,459.40) rotate(-90)" font-size="7.75" fill="#231f20" text-anchor="middle">Relative Abundance</text>
<text x="346.00" y="517.30" font-size="7.7" fill="#333" text-anchor="middle">m/z</text>
<text x="345.2" y="425.2" font-size="7.35" fill="#333"><tspan font-style="italic">N</tspan>-formyl-FAD (<tspan font-weight="bold">5</tspan>)</text>
<text x="345.2" y="432.8" font-size="7.35" fill="#333"><tspan font-style="italic">m/z</tspan> 814.1610</text>
<text x="469.8" y="419.8" font-size="9.9" fill="#231f20" stroke="#231f20">AW4 Styrene (<tspan font-weight="bold">34</tspan>) GC-MS</text>
<line x1="505.40" y1="430.40" x2="505.40" y2="497.30" stroke="#2b2b2b" stroke-width="1" />
<line x1="505.40" y1="497.30" x2="551.20" y2="497.30" stroke="#2b2b2b" stroke-width="1" />
<line x1="503.00" y1="497.30" x2="505.40" y2="497.30" stroke="#2b2b2b" stroke-width="0.9" />
<text x="502.00" y="499.70" font-size="6.9" fill="#333" text-anchor="end" >0.0</text>
<line x1="503.00" y1="480.57" x2="505.40" y2="480.57" stroke="#2b2b2b" stroke-width="0.9" />
<text x="502.00" y="482.97" font-size="6.9" fill="#333" text-anchor="end" >0.5</text>
<line x1="503.00" y1="463.85" x2="505.40" y2="463.85" stroke="#2b2b2b" stroke-width="0.9" />
<text x="502.00" y="466.25" font-size="6.9" fill="#333" text-anchor="end" >1.0</text>
<line x1="503.00" y1="447.12" x2="505.40" y2="447.12" stroke="#2b2b2b" stroke-width="0.9" />
<text x="502.00" y="449.52" font-size="6.9" fill="#333" text-anchor="end" >1.5</text>
<line x1="503.00" y1="430.40" x2="505.40" y2="430.40" stroke="#2b2b2b" stroke-width="0.9" />
<text x="502.00" y="432.80" font-size="6.9" fill="#333" text-anchor="end" >2.0</text>
<rect x="511.50" y="470.87" width="8.2" height="26.43" fill="#fff" stroke="#444" stroke-width="0.8"/>
<circle cx="515.60" cy="460.84" r="0.85" fill="#333" />
<circle cx="515.60" cy="479.91" r="0.85" fill="#333" />
<line x1="515.60" y1="497.30" x2="515.60" y2="499.80" stroke="#2b2b2b" stroke-width="0.9" />
<text x="515.60" y="509.20" font-size="7.1" fill="#333" text-anchor="middle" >8</text>
<rect x="524.60" y="464.85" width="8.2" height="32.45" fill="#fff" stroke="#444" stroke-width="0.8"/>
<circle cx="528.70" cy="452.81" r="0.85" fill="#333" />
<circle cx="528.70" cy="475.89" r="0.85" fill="#333" />
<line x1="528.70" y1="497.30" x2="528.70" y2="499.80" stroke="#2b2b2b" stroke-width="0.9" />
<text x="528.70" y="509.20" font-size="7.1" fill="#333" text-anchor="middle" >24</text>
<rect x="538.10" y="456.83" width="8.2" height="40.47" fill="#fff" stroke="#444" stroke-width="0.8"/>
<circle cx="542.20" cy="442.78" r="0.85" fill="#333" />
<circle cx="542.20" cy="470.87" r="0.85" fill="#333" />
<line x1="542.20" y1="497.30" x2="542.20" y2="499.80" stroke="#2b2b2b" stroke-width="0.9" />
<text x="542.20" y="509.20" font-size="7.1" fill="#333" text-anchor="middle" >48</text>
<text x="528.40" y="519.00" font-size="8.4" fill="#231f20" stroke="#231f20" text-anchor="middle" >Time (h)</text>
<text transform="translate(484.30,463.00) rotate(-90)" font-size="8.3" fill="#231f20" stroke="#231f20" text-anchor="middle">% Conversion</text>
</svg></body></html>
